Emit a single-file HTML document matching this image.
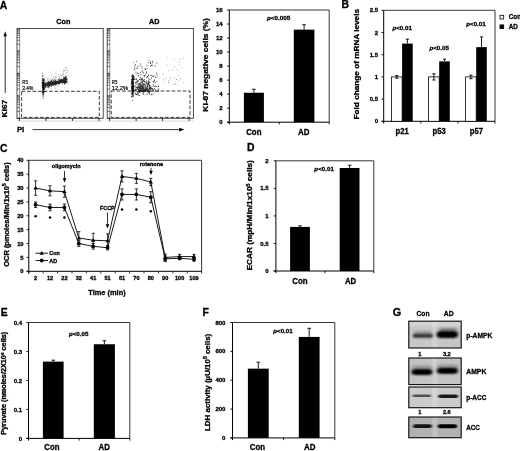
<!DOCTYPE html><html><head><meta charset="utf-8"><style>html,body{margin:0;padding:0;background:#fff;overflow:hidden;}svg{display:block;}text{font-family:"Liberation Sans",sans-serif;}</style></head><body>
<svg width="520" height="451" viewBox="0 0 520 451">
<defs><filter id="b1" x="-30%" y="-80%" width="160%" height="260%"><feGaussianBlur stdDeviation="1.6 1.1"/></filter><filter id="b2" x="-30%" y="-80%" width="160%" height="260%"><feGaussianBlur stdDeviation="1.3 0.8"/></filter><filter id="b3" x="-30%" y="-80%" width="160%" height="260%"><feGaussianBlur stdDeviation="1.0 0.55"/></filter><filter id="soft"><feGaussianBlur stdDeviation="0.4"/></filter><filter id="dsoft"><feGaussianBlur stdDeviation="0.3"/></filter></defs>
<rect width="520" height="451" fill="#fff"/>
<g filter="url(#soft)">
<text x="-0.2" y="8.6" font-size="10.4" font-weight="bold" text-anchor="start" fill="#000" stroke="#000" stroke-width="0.3">A</text>
<text x="341.5" y="8.3" font-size="10.4" font-weight="bold" text-anchor="start" fill="#000" stroke="#000" stroke-width="0.3">B</text>
<text x="0.0" y="151.8" font-size="10.4" font-weight="bold" text-anchor="start" fill="#000" stroke="#000" stroke-width="0.3">C</text>
<text x="247.0" y="150.8" font-size="10.4" font-weight="bold" text-anchor="start" fill="#000" stroke="#000" stroke-width="0.3">D</text>
<text x="0.8" y="316.1" font-size="10.4" font-weight="bold" text-anchor="start" fill="#000" stroke="#000" stroke-width="0.3">E</text>
<text x="202.4" y="316.1" font-size="10.4" font-weight="bold" text-anchor="start" fill="#000" stroke="#000" stroke-width="0.3">F</text>
<text x="392.8" y="316.3" font-size="10.9" font-weight="bold" text-anchor="start" fill="#000" stroke="#000" stroke-width="0.3">G</text>
<line x1="17.00" y1="121.10" x2="103.20" y2="121.10" stroke="#aaa" stroke-width="0.5" />
<rect x="17.00" y="28.50" width="86.20" height="89.80" fill="none" stroke="#3a3a3a" stroke-width="0.9" />
<line x1="19.60" y1="28.50" x2="19.60" y2="118.30" stroke="#444" stroke-width="0.6" />
<line x1="17.00" y1="118.30" x2="19.60" y2="118.30" stroke="#222" stroke-width="0.9" />
<line x1="17.00" y1="111.54" x2="19.60" y2="111.54" stroke="#222" stroke-width="0.6" />
<line x1="17.00" y1="107.59" x2="19.60" y2="107.59" stroke="#222" stroke-width="0.6" />
<line x1="17.00" y1="104.78" x2="19.60" y2="104.78" stroke="#222" stroke-width="0.6" />
<line x1="17.00" y1="102.61" x2="19.60" y2="102.61" stroke="#222" stroke-width="0.6" />
<line x1="17.00" y1="100.83" x2="19.60" y2="100.83" stroke="#222" stroke-width="0.6" />
<line x1="17.00" y1="99.33" x2="19.60" y2="99.33" stroke="#222" stroke-width="0.6" />
<line x1="17.00" y1="98.03" x2="19.60" y2="98.03" stroke="#222" stroke-width="0.6" />
<line x1="17.00" y1="96.88" x2="19.60" y2="96.88" stroke="#222" stroke-width="0.6" />
<line x1="17.00" y1="95.85" x2="19.60" y2="95.85" stroke="#222" stroke-width="0.9" />
<line x1="17.00" y1="89.09" x2="19.60" y2="89.09" stroke="#222" stroke-width="0.6" />
<line x1="17.00" y1="85.14" x2="19.60" y2="85.14" stroke="#222" stroke-width="0.6" />
<line x1="17.00" y1="82.33" x2="19.60" y2="82.33" stroke="#222" stroke-width="0.6" />
<line x1="17.00" y1="80.16" x2="19.60" y2="80.16" stroke="#222" stroke-width="0.6" />
<line x1="17.00" y1="78.38" x2="19.60" y2="78.38" stroke="#222" stroke-width="0.6" />
<line x1="17.00" y1="76.88" x2="19.60" y2="76.88" stroke="#222" stroke-width="0.6" />
<line x1="17.00" y1="75.58" x2="19.60" y2="75.58" stroke="#222" stroke-width="0.6" />
<line x1="17.00" y1="74.43" x2="19.60" y2="74.43" stroke="#222" stroke-width="0.6" />
<line x1="17.00" y1="73.40" x2="19.60" y2="73.40" stroke="#222" stroke-width="0.9" />
<line x1="17.00" y1="66.64" x2="19.60" y2="66.64" stroke="#222" stroke-width="0.6" />
<line x1="17.00" y1="62.69" x2="19.60" y2="62.69" stroke="#222" stroke-width="0.6" />
<line x1="17.00" y1="59.88" x2="19.60" y2="59.88" stroke="#222" stroke-width="0.6" />
<line x1="17.00" y1="57.71" x2="19.60" y2="57.71" stroke="#222" stroke-width="0.6" />
<line x1="17.00" y1="55.93" x2="19.60" y2="55.93" stroke="#222" stroke-width="0.6" />
<line x1="17.00" y1="54.43" x2="19.60" y2="54.43" stroke="#222" stroke-width="0.6" />
<line x1="17.00" y1="53.13" x2="19.60" y2="53.13" stroke="#222" stroke-width="0.6" />
<line x1="17.00" y1="51.98" x2="19.60" y2="51.98" stroke="#222" stroke-width="0.6" />
<line x1="17.00" y1="50.95" x2="19.60" y2="50.95" stroke="#222" stroke-width="0.9" />
<line x1="17.00" y1="44.19" x2="19.60" y2="44.19" stroke="#222" stroke-width="0.6" />
<line x1="17.00" y1="40.24" x2="19.60" y2="40.24" stroke="#222" stroke-width="0.6" />
<line x1="17.00" y1="37.43" x2="19.60" y2="37.43" stroke="#222" stroke-width="0.6" />
<line x1="17.00" y1="35.26" x2="19.60" y2="35.26" stroke="#222" stroke-width="0.6" />
<line x1="17.00" y1="33.48" x2="19.60" y2="33.48" stroke="#222" stroke-width="0.6" />
<line x1="17.00" y1="31.98" x2="19.60" y2="31.98" stroke="#222" stroke-width="0.6" />
<line x1="17.00" y1="30.68" x2="19.60" y2="30.68" stroke="#222" stroke-width="0.6" />
<line x1="17.00" y1="29.53" x2="19.60" y2="29.53" stroke="#222" stroke-width="0.6" />
<line x1="19.40" y1="118.30" x2="19.40" y2="120.90" stroke="#111" stroke-width="0.9" />
<line x1="45.90" y1="118.30" x2="45.90" y2="120.90" stroke="#111" stroke-width="0.9" />
<line x1="72.40" y1="118.30" x2="72.40" y2="120.90" stroke="#111" stroke-width="0.9" />
<line x1="98.90" y1="118.30" x2="98.90" y2="120.90" stroke="#111" stroke-width="0.9" />
<rect x="21.6" y="91.3" width="77.69999999999999" height="26.10000000000001" fill="none" stroke="#0a0a0a" stroke-width="0.8" stroke-dasharray="3.6 1.9"/>
<text x="63.3" y="24.0" font-size="7.6" font-weight="bold" text-anchor="middle" fill="#000" stroke="#000" stroke-width="0.3" textLength="14.2" lengthAdjust="spacingAndGlyphs">Con</text>
<text x="22.3" y="84.2" font-size="5.4" font-weight="normal" text-anchor="start" fill="#000" stroke="#000" stroke-width="0.18" textLength="5.6" lengthAdjust="spacingAndGlyphs">R5</text>
<text x="22.3" y="89.5" font-size="5.6" font-weight="normal" text-anchor="start" fill="#000" stroke="#000" stroke-width="0.18" textLength="11.0" lengthAdjust="spacingAndGlyphs">3.4%</text>
<g filter="url(#dsoft)">
<path d="M52.3 82.9h0.8v0.8h-0.8zM66.5 79.6h0.8v0.8h-0.8zM44.8 83.7h0.8v0.8h-0.8zM44.2 85.8h0.8v0.8h-0.8zM50.7 81.7h0.8v0.8h-0.8zM56.2 81.6h0.8v0.8h-0.8zM56.5 73.0h0.8v0.8h-0.8zM56.2 76.7h0.8v0.8h-0.8zM66.7 79.9h0.8v0.8h-0.8zM44.9 83.5h0.8v0.8h-0.8zM50.7 81.4h0.8v0.8h-0.8zM55.6 70.2h0.8v0.8h-0.8zM47.0 79.0h0.8v0.8h-0.8zM50.4 85.6h0.8v0.8h-0.8zM62.8 82.7h0.8v0.8h-0.8zM58.1 78.4h0.8v0.8h-0.8zM64.2 75.2h0.8v0.8h-0.8zM66.6 77.9h0.8v0.8h-0.8zM67.4 84.2h0.8v0.8h-0.8zM53.0 81.4h0.8v0.8h-0.8zM44.3 83.6h0.8v0.8h-0.8zM61.4 80.7h0.8v0.8h-0.8zM48.3 84.3h0.8v0.8h-0.8zM63.0 78.5h0.8v0.8h-0.8zM55.5 77.1h0.8v0.8h-0.8zM47.6 77.6h0.8v0.8h-0.8zM43.4 82.0h0.8v0.8h-0.8zM49.5 82.2h0.8v0.8h-0.8zM58.5 75.9h0.8v0.8h-0.8zM58.6 82.5h0.8v0.8h-0.8zM50.9 75.3h0.8v0.8h-0.8zM57.5 86.1h0.8v0.8h-0.8zM53.4 75.7h0.8v0.8h-0.8zM51.3 79.5h0.8v0.8h-0.8zM65.8 78.5h0.8v0.8h-0.8zM64.3 87.6h0.8v0.8h-0.8zM65.0 80.3h0.8v0.8h-0.8zM67.6 81.4h0.8v0.8h-0.8zM50.2 84.1h0.8v0.8h-0.8zM48.9 87.1h0.8v0.8h-0.8zM57.6 84.9h0.8v0.8h-0.8zM50.1 89.5h0.8v0.8h-0.8zM45.4 80.5h0.8v0.8h-0.8zM57.0 75.8h0.8v0.8h-0.8zM55.4 84.2h0.8v0.8h-0.8zM52.5 78.1h0.8v0.8h-0.8zM43.0 79.2h0.8v0.8h-0.8zM57.4 79.4h0.8v0.8h-0.8zM58.8 77.3h0.8v0.8h-0.8zM55.4 80.2h0.8v0.8h-0.8zM55.0 72.8h0.8v0.8h-0.8zM50.0 72.3h0.8v0.8h-0.8zM54.1 86.6h0.8v0.8h-0.8zM48.9 85.0h0.8v0.8h-0.8zM63.7 78.9h0.8v0.8h-0.8zM65.6 74.5h0.8v0.8h-0.8zM55.6 74.9h0.8v0.8h-0.8zM66.6 79.7h0.8v0.8h-0.8zM55.2 76.3h0.8v0.8h-0.8zM64.0 78.3h0.8v0.8h-0.8zM55.6 78.2h0.8v0.8h-0.8zM48.4 83.6h0.8v0.8h-0.8zM63.9 81.8h0.8v0.8h-0.8zM65.9 66.5h0.8v0.8h-0.8zM60.1 80.7h0.8v0.8h-0.8zM63.2 71.7h0.8v0.8h-0.8zM63.0 81.5h0.8v0.8h-0.8zM50.6 87.7h0.8v0.8h-0.8zM49.1 81.9h0.8v0.8h-0.8zM55.8 79.2h0.8v0.8h-0.8zM51.6 82.1h0.8v0.8h-0.8zM65.8 71.9h0.8v0.8h-0.8zM66.3 76.4h0.8v0.8h-0.8zM59.7 77.6h0.8v0.8h-0.8zM45.7 90.4h0.8v0.8h-0.8zM50.8 79.8h0.8v0.8h-0.8zM47.6 79.0h0.8v0.8h-0.8zM67.6 70.4h0.8v0.8h-0.8zM58.6 83.8h0.8v0.8h-0.8zM44.5 87.0h0.8v0.8h-0.8zM64.7 78.6h0.8v0.8h-0.8zM64.8 70.4h0.8v0.8h-0.8zM57.2 85.0h0.8v0.8h-0.8zM55.3 77.7h0.8v0.8h-0.8zM52.6 79.8h0.8v0.8h-0.8zM47.0 82.3h0.8v0.8h-0.8zM62.9 78.9h0.8v0.8h-0.8zM62.4 84.3h0.8v0.8h-0.8zM60.4 75.0h0.8v0.8h-0.8zM49.8 80.6h0.8v0.8h-0.8zM47.7 77.6h0.8v0.8h-0.8zM66.6 72.2h0.8v0.8h-0.8zM51.3 89.0h0.8v0.8h-0.8zM50.3 76.8h0.8v0.8h-0.8zM66.8 69.4h0.8v0.8h-0.8zM62.4 70.9h0.8v0.8h-0.8zM51.3 79.7h0.8v0.8h-0.8zM55.2 84.8h0.8v0.8h-0.8zM43.9 85.7h0.8v0.8h-0.8zM54.8 75.9h0.8v0.8h-0.8zM61.6 78.4h0.8v0.8h-0.8zM57.5 82.1h0.8v0.8h-0.8zM49.0 80.4h0.8v0.8h-0.8zM44.3 83.6h0.8v0.8h-0.8zM51.9 70.4h0.8v0.8h-0.8zM59.0 77.3h0.8v0.8h-0.8zM53.4 77.7h0.8v0.8h-0.8zM54.8 81.6h0.8v0.8h-0.8zM67.0 80.4h0.8v0.8h-0.8zM60.1 81.8h0.8v0.8h-0.8zM62.1 72.7h0.8v0.8h-0.8zM66.5 75.3h0.8v0.8h-0.8zM65.6 77.5h0.8v0.8h-0.8zM67.9 82.3h0.8v0.8h-0.8zM56.2 82.3h0.8v0.8h-0.8zM44.4 88.8h0.8v0.8h-0.8zM46.8 78.5h0.8v0.8h-0.8zM61.0 77.5h0.8v0.8h-0.8zM61.2 75.5h0.8v0.8h-0.8zM59.2 85.4h0.8v0.8h-0.8zM60.6 74.3h0.8v0.8h-0.8zM45.7 83.1h0.8v0.8h-0.8zM54.9 88.3h0.8v0.8h-0.8zM44.4 79.7h0.8v0.8h-0.8zM44.8 81.3h0.8v0.8h-0.8zM53.9 86.5h0.8v0.8h-0.8zM46.2 76.9h0.8v0.8h-0.8zM61.6 80.9h0.8v0.8h-0.8zM53.1 76.5h0.8v0.8h-0.8zM58.4 74.0h0.8v0.8h-0.8zM44.2 81.7h0.8v0.8h-0.8zM44.4 80.1h0.8v0.8h-0.8zM54.8 81.5h0.8v0.8h-0.8zM52.8 80.5h0.8v0.8h-0.8zM54.7 88.1h0.8v0.8h-0.8zM64.3 84.2h0.8v0.8h-0.8zM55.2 76.7h0.8v0.8h-0.8zM67.6 75.2h0.8v0.8h-0.8zM46.0 80.8h0.8v0.8h-0.8zM64.6 80.5h0.8v0.8h-0.8zM64.1 69.7h0.8v0.8h-0.8zM63.2 76.4h0.8v0.8h-0.8zM62.1 75.1h0.8v0.8h-0.8zM65.7 70.3h0.8v0.8h-0.8zM62.9 70.1h0.8v0.8h-0.8zM63.6 68.4h0.8v0.8h-0.8zM65.0 69.8h0.8v0.8h-0.8zM62.4 74.8h0.8v0.8h-0.8zM63.6 70.6h0.8v0.8h-0.8zM67.0 70.4h0.8v0.8h-0.8zM63.0 76.6h0.8v0.8h-0.8zM67.8 75.0h0.8v0.8h-0.8zM63.2 73.4h0.8v0.8h-0.8zM65.9 68.1h0.8v0.8h-0.8zM65.8 77.3h0.8v0.8h-0.8zM65.2 73.4h0.8v0.8h-0.8zM63.5 73.1h0.8v0.8h-0.8zM61.8 74.8h0.8v0.8h-0.8zM64.3 77.7h0.8v0.8h-0.8zM62.7 74.0h0.8v0.8h-0.8zM60.1 69.8h0.8v0.8h-0.8zM66.1 67.6h0.8v0.8h-0.8zM64.9 67.1h0.8v0.8h-0.8zM63.2 77.9h0.8v0.8h-0.8zM61.6 76.8h0.8v0.8h-0.8z" fill="#000" opacity="0.3"/>
<path d="M52.6 81.7h0.8v0.8h-0.8zM53.2 82.5h0.8v0.8h-0.8zM46.9 83.9h0.8v0.8h-0.8zM61.4 81.3h0.8v0.8h-0.8zM45.6 82.5h0.8v0.8h-0.8zM45.3 84.4h0.8v0.8h-0.8zM57.8 81.2h0.8v0.8h-0.8zM43.5 84.8h0.8v0.8h-0.8zM47.6 84.3h0.8v0.8h-0.8zM53.0 83.4h0.8v0.8h-0.8zM54.7 81.3h0.8v0.8h-0.8zM57.9 81.8h0.8v0.8h-0.8zM66.5 79.8h0.8v0.8h-0.8zM59.1 82.0h0.8v0.8h-0.8zM50.4 84.4h0.8v0.8h-0.8zM52.5 81.9h0.8v0.8h-0.8zM64.9 80.0h0.8v0.8h-0.8zM48.4 83.1h0.8v0.8h-0.8zM65.2 80.1h0.8v0.8h-0.8zM57.5 80.9h0.8v0.8h-0.8zM44.7 87.8h0.8v0.8h-0.8zM60.6 81.6h0.8v0.8h-0.8zM46.2 85.4h0.8v0.8h-0.8zM46.9 83.5h0.8v0.8h-0.8zM47.6 83.3h0.8v0.8h-0.8zM58.1 82.4h0.8v0.8h-0.8zM48.0 87.5h0.8v0.8h-0.8zM61.1 82.7h0.8v0.8h-0.8zM47.4 85.5h0.8v0.8h-0.8zM58.7 83.6h0.8v0.8h-0.8zM48.1 86.2h0.8v0.8h-0.8zM50.7 83.8h0.8v0.8h-0.8zM45.1 84.0h0.8v0.8h-0.8zM56.5 82.7h0.8v0.8h-0.8zM64.4 80.1h0.8v0.8h-0.8zM62.9 81.0h0.8v0.8h-0.8zM63.9 79.7h0.8v0.8h-0.8zM47.5 80.8h0.8v0.8h-0.8zM48.5 83.1h0.8v0.8h-0.8zM56.7 82.1h0.8v0.8h-0.8zM44.5 84.5h0.8v0.8h-0.8zM59.1 83.2h0.8v0.8h-0.8zM56.7 82.6h0.8v0.8h-0.8zM59.8 81.6h0.8v0.8h-0.8zM56.2 80.9h0.8v0.8h-0.8zM49.8 83.1h0.8v0.8h-0.8zM43.6 86.5h0.8v0.8h-0.8zM44.8 85.9h0.8v0.8h-0.8zM56.4 82.8h0.8v0.8h-0.8zM63.9 80.2h0.8v0.8h-0.8zM58.7 81.1h0.8v0.8h-0.8zM45.0 85.2h0.8v0.8h-0.8zM59.2 81.3h0.8v0.8h-0.8zM57.0 81.9h0.8v0.8h-0.8zM50.6 83.3h0.8v0.8h-0.8zM55.5 79.7h0.8v0.8h-0.8zM59.7 79.5h0.8v0.8h-0.8zM63.5 81.3h0.8v0.8h-0.8zM63.9 79.6h0.8v0.8h-0.8zM61.4 79.9h0.8v0.8h-0.8zM57.0 82.7h0.8v0.8h-0.8zM57.5 82.6h0.8v0.8h-0.8zM66.1 78.9h0.8v0.8h-0.8zM52.0 81.4h0.8v0.8h-0.8zM53.3 82.3h0.8v0.8h-0.8zM60.7 81.3h0.8v0.8h-0.8zM54.2 84.3h0.8v0.8h-0.8zM53.8 80.7h0.8v0.8h-0.8zM49.4 83.7h0.8v0.8h-0.8zM58.6 82.1h0.8v0.8h-0.8zM63.4 79.5h0.8v0.8h-0.8zM63.1 81.5h0.8v0.8h-0.8zM47.1 85.0h0.8v0.8h-0.8zM64.2 79.7h0.8v0.8h-0.8zM56.3 82.5h0.8v0.8h-0.8zM54.9 80.5h0.8v0.8h-0.8zM59.6 81.0h0.8v0.8h-0.8zM46.8 84.5h0.8v0.8h-0.8zM47.6 84.9h0.8v0.8h-0.8zM54.1 84.5h0.8v0.8h-0.8zM65.2 80.0h0.8v0.8h-0.8zM44.1 84.5h0.8v0.8h-0.8zM58.9 80.9h0.8v0.8h-0.8zM61.3 80.9h0.8v0.8h-0.8zM54.3 83.0h0.8v0.8h-0.8zM48.7 84.1h0.8v0.8h-0.8zM56.9 82.2h0.8v0.8h-0.8zM58.4 79.1h0.8v0.8h-0.8zM58.8 82.6h0.8v0.8h-0.8zM47.8 84.2h0.8v0.8h-0.8zM59.5 82.0h0.8v0.8h-0.8zM50.9 81.7h0.8v0.8h-0.8zM57.1 80.7h0.8v0.8h-0.8zM61.3 80.7h0.8v0.8h-0.8zM64.2 79.7h0.8v0.8h-0.8zM52.9 80.8h0.8v0.8h-0.8zM51.0 82.0h0.8v0.8h-0.8zM61.6 80.5h0.8v0.8h-0.8zM58.1 83.2h0.8v0.8h-0.8zM61.3 79.6h0.8v0.8h-0.8zM49.0 81.7h0.8v0.8h-0.8zM64.6 79.6h0.8v0.8h-0.8zM51.2 82.0h0.8v0.8h-0.8zM51.5 83.9h0.8v0.8h-0.8zM55.7 80.8h0.8v0.8h-0.8zM44.0 84.4h0.8v0.8h-0.8zM61.5 81.6h0.8v0.8h-0.8zM61.2 81.3h0.8v0.8h-0.8zM54.8 80.1h0.8v0.8h-0.8zM59.2 81.0h0.8v0.8h-0.8zM64.9 80.4h0.8v0.8h-0.8zM55.0 84.1h0.8v0.8h-0.8zM56.9 81.4h0.8v0.8h-0.8zM55.8 83.1h0.8v0.8h-0.8zM62.5 80.2h0.8v0.8h-0.8zM62.9 80.4h0.8v0.8h-0.8zM56.3 83.3h0.8v0.8h-0.8zM54.5 82.2h0.8v0.8h-0.8zM64.7 79.9h0.8v0.8h-0.8zM60.9 80.4h0.8v0.8h-0.8zM59.3 81.9h0.8v0.8h-0.8zM53.5 82.1h0.8v0.8h-0.8zM49.2 83.7h0.8v0.8h-0.8zM53.4 80.4h0.8v0.8h-0.8zM53.9 83.2h0.8v0.8h-0.8zM57.4 81.5h0.8v0.8h-0.8zM61.1 81.0h0.8v0.8h-0.8zM48.3 82.7h0.8v0.8h-0.8zM51.2 82.7h0.8v0.8h-0.8zM60.1 82.0h0.8v0.8h-0.8zM49.1 85.2h0.8v0.8h-0.8zM52.8 83.6h0.8v0.8h-0.8zM55.4 82.9h0.8v0.8h-0.8zM57.2 80.7h0.8v0.8h-0.8zM61.9 79.4h0.8v0.8h-0.8zM48.5 81.3h0.8v0.8h-0.8zM63.5 81.0h0.8v0.8h-0.8zM64.3 83.3h0.8v0.8h-0.8zM63.5 80.9h0.8v0.8h-0.8zM59.6 81.7h0.8v0.8h-0.8zM61.4 81.5h0.8v0.8h-0.8zM45.6 85.6h0.8v0.8h-0.8zM43.9 87.1h0.8v0.8h-0.8zM64.0 80.2h0.8v0.8h-0.8zM54.7 81.0h0.8v0.8h-0.8zM58.8 81.8h0.8v0.8h-0.8zM46.2 84.9h0.8v0.8h-0.8zM54.7 82.1h0.8v0.8h-0.8zM47.7 86.6h0.8v0.8h-0.8zM65.7 79.7h0.8v0.8h-0.8zM45.1 84.2h0.8v0.8h-0.8zM60.3 82.0h0.8v0.8h-0.8zM54.4 83.0h0.8v0.8h-0.8zM43.4 82.2h0.8v0.8h-0.8zM46.7 84.7h0.8v0.8h-0.8zM52.5 83.6h0.8v0.8h-0.8zM55.7 82.6h0.8v0.8h-0.8zM61.1 79.0h0.8v0.8h-0.8zM57.0 82.5h0.8v0.8h-0.8zM55.4 82.2h0.8v0.8h-0.8zM49.7 82.5h0.8v0.8h-0.8zM61.0 80.0h0.8v0.8h-0.8zM63.9 79.4h0.8v0.8h-0.8zM60.6 80.0h0.8v0.8h-0.8zM59.9 81.6h0.8v0.8h-0.8zM54.2 82.6h0.8v0.8h-0.8zM57.5 81.1h0.8v0.8h-0.8zM64.4 79.4h0.8v0.8h-0.8zM57.7 81.0h0.8v0.8h-0.8zM52.6 83.0h0.8v0.8h-0.8zM59.2 78.5h0.8v0.8h-0.8zM43.3 83.3h0.8v0.8h-0.8zM49.0 83.9h0.8v0.8h-0.8zM47.6 84.4h0.8v0.8h-0.8zM49.4 82.8h0.8v0.8h-0.8zM55.2 82.1h0.8v0.8h-0.8zM65.2 78.7h0.8v0.8h-0.8zM44.5 83.2h0.8v0.8h-0.8zM44.5 84.4h0.8v0.8h-0.8zM54.1 83.8h0.8v0.8h-0.8zM58.0 82.8h0.8v0.8h-0.8zM52.2 82.5h0.8v0.8h-0.8zM51.4 84.9h0.8v0.8h-0.8zM55.8 83.8h0.8v0.8h-0.8zM50.3 83.5h0.8v0.8h-0.8zM44.6 86.8h0.8v0.8h-0.8zM52.6 81.7h0.8v0.8h-0.8zM45.4 84.5h0.8v0.8h-0.8zM45.3 83.8h0.8v0.8h-0.8zM54.3 82.4h0.8v0.8h-0.8zM55.7 81.6h0.8v0.8h-0.8zM54.6 82.3h0.8v0.8h-0.8zM57.3 82.9h0.8v0.8h-0.8zM53.6 83.0h0.8v0.8h-0.8zM55.5 83.1h0.8v0.8h-0.8zM58.0 81.8h0.8v0.8h-0.8zM55.8 82.9h0.8v0.8h-0.8zM56.2 82.2h0.8v0.8h-0.8zM59.8 81.7h0.8v0.8h-0.8zM63.5 79.1h0.8v0.8h-0.8zM51.3 85.0h0.8v0.8h-0.8zM55.5 81.2h0.8v0.8h-0.8zM60.4 81.8h0.8v0.8h-0.8zM66.1 79.0h0.8v0.8h-0.8zM44.5 85.2h0.8v0.8h-0.8zM52.7 82.4h0.8v0.8h-0.8zM55.6 82.4h0.8v0.8h-0.8zM58.0 81.0h0.8v0.8h-0.8zM51.4 83.2h0.8v0.8h-0.8zM51.0 80.8h0.8v0.8h-0.8zM45.5 86.4h0.8v0.8h-0.8zM57.4 81.0h0.8v0.8h-0.8zM52.8 85.0h0.8v0.8h-0.8zM50.9 80.0h0.8v0.8h-0.8zM50.0 82.7h0.8v0.8h-0.8zM63.7 80.6h0.8v0.8h-0.8zM45.6 84.1h0.8v0.8h-0.8zM44.7 83.9h0.8v0.8h-0.8zM58.5 83.1h0.8v0.8h-0.8zM45.1 86.7h0.8v0.8h-0.8zM44.9 86.8h0.8v0.8h-0.8zM58.9 82.0h0.8v0.8h-0.8zM51.3 82.0h0.8v0.8h-0.8zM45.8 82.6h0.8v0.8h-0.8zM64.8 79.5h0.8v0.8h-0.8zM53.3 81.8h0.8v0.8h-0.8zM49.7 85.1h0.8v0.8h-0.8zM63.4 81.2h0.8v0.8h-0.8zM51.3 84.1h0.8v0.8h-0.8zM52.2 84.5h0.8v0.8h-0.8zM60.5 80.4h0.8v0.8h-0.8zM56.3 83.8h0.8v0.8h-0.8zM63.1 80.6h0.8v0.8h-0.8zM54.4 81.9h0.8v0.8h-0.8zM64.6 78.7h0.8v0.8h-0.8zM44.1 83.9h0.8v0.8h-0.8zM45.8 85.7h0.8v0.8h-0.8zM64.0 81.0h0.8v0.8h-0.8zM46.5 82.2h0.8v0.8h-0.8zM48.9 86.0h0.8v0.8h-0.8zM55.1 81.1h0.8v0.8h-0.8zM51.5 82.9h0.8v0.8h-0.8zM53.8 82.0h0.8v0.8h-0.8zM59.6 80.8h0.8v0.8h-0.8zM61.5 79.1h0.8v0.8h-0.8zM61.9 79.1h0.8v0.8h-0.8zM64.5 79.2h0.8v0.8h-0.8zM59.4 80.3h0.8v0.8h-0.8zM53.2 84.4h0.8v0.8h-0.8zM65.4 80.2h0.8v0.8h-0.8zM47.6 84.5h0.8v0.8h-0.8zM65.4 80.2h0.8v0.8h-0.8zM45.5 82.4h0.8v0.8h-0.8zM47.7 84.7h0.8v0.8h-0.8zM56.5 81.8h0.8v0.8h-0.8zM45.9 85.4h0.8v0.8h-0.8zM48.5 82.0h0.8v0.8h-0.8zM48.5 84.8h0.8v0.8h-0.8zM47.2 82.9h0.8v0.8h-0.8zM55.8 81.0h0.8v0.8h-0.8zM49.8 81.7h0.8v0.8h-0.8zM50.0 82.3h0.8v0.8h-0.8zM54.2 82.9h0.8v0.8h-0.8zM64.7 79.3h0.8v0.8h-0.8zM54.9 82.2h0.8v0.8h-0.8zM65.4 79.3h0.8v0.8h-0.8zM43.2 85.2h0.8v0.8h-0.8zM61.1 79.6h0.8v0.8h-0.8zM47.0 85.2h0.8v0.8h-0.8zM49.5 82.5h0.8v0.8h-0.8zM57.9 81.7h0.8v0.8h-0.8zM55.7 83.8h0.8v0.8h-0.8zM43.7 82.4h0.8v0.8h-0.8zM62.1 81.1h0.8v0.8h-0.8zM59.8 81.9h0.8v0.8h-0.8zM54.4 82.1h0.8v0.8h-0.8zM62.4 82.1h0.8v0.8h-0.8zM52.8 82.6h0.8v0.8h-0.8zM62.0 81.8h0.8v0.8h-0.8zM55.5 84.1h0.8v0.8h-0.8zM50.2 83.9h0.8v0.8h-0.8zM49.6 83.8h0.8v0.8h-0.8zM51.3 82.6h0.8v0.8h-0.8zM51.2 83.7h0.8v0.8h-0.8zM61.9 80.6h0.8v0.8h-0.8zM51.7 82.2h0.8v0.8h-0.8zM55.9 82.1h0.8v0.8h-0.8zM65.7 79.3h0.8v0.8h-0.8zM57.1 82.8h0.8v0.8h-0.8zM55.3 83.2h0.8v0.8h-0.8zM52.0 82.1h0.8v0.8h-0.8zM47.8 82.7h0.8v0.8h-0.8zM64.0 79.6h0.8v0.8h-0.8zM50.8 82.8h0.8v0.8h-0.8zM47.0 85.4h0.8v0.8h-0.8zM59.4 82.3h0.8v0.8h-0.8zM62.0 80.4h0.8v0.8h-0.8zM48.5 84.4h0.8v0.8h-0.8zM53.3 84.1h0.8v0.8h-0.8zM52.3 82.7h0.8v0.8h-0.8zM60.7 80.1h0.8v0.8h-0.8zM50.7 83.4h0.8v0.8h-0.8zM52.0 79.6h0.8v0.8h-0.8zM60.8 79.8h0.8v0.8h-0.8zM43.5 86.1h0.8v0.8h-0.8zM58.2 82.3h0.8v0.8h-0.8zM54.9 80.3h0.8v0.8h-0.8zM57.4 83.4h0.8v0.8h-0.8zM63.3 80.1h0.8v0.8h-0.8zM55.0 83.8h0.8v0.8h-0.8zM64.9 79.7h0.8v0.8h-0.8zM62.4 82.8h0.8v0.8h-0.8zM57.5 82.2h0.8v0.8h-0.8zM48.3 82.8h0.8v0.8h-0.8zM51.0 82.8h0.8v0.8h-0.8zM54.5 84.8h0.8v0.8h-0.8zM46.8 83.3h0.8v0.8h-0.8zM55.6 81.8h0.8v0.8h-0.8zM64.5 80.2h0.8v0.8h-0.8zM57.4 83.3h0.8v0.8h-0.8zM50.0 82.9h0.8v0.8h-0.8zM56.3 81.4h0.8v0.8h-0.8zM55.7 82.3h0.8v0.8h-0.8zM48.3 83.8h0.8v0.8h-0.8zM57.9 83.0h0.8v0.8h-0.8zM59.5 82.1h0.8v0.8h-0.8zM61.7 80.9h0.8v0.8h-0.8zM54.1 83.5h0.8v0.8h-0.8zM56.3 83.2h0.8v0.8h-0.8zM48.9 83.1h0.8v0.8h-0.8zM58.3 82.0h0.8v0.8h-0.8zM47.1 83.8h0.8v0.8h-0.8zM53.4 83.4h0.8v0.8h-0.8zM58.8 79.7h0.8v0.8h-0.8zM55.0 82.4h0.8v0.8h-0.8zM62.2 81.1h0.8v0.8h-0.8zM56.4 81.3h0.8v0.8h-0.8zM54.3 83.3h0.8v0.8h-0.8zM51.1 84.0h0.8v0.8h-0.8zM63.5 79.1h0.8v0.8h-0.8zM60.0 82.3h0.8v0.8h-0.8zM45.2 85.8h0.8v0.8h-0.8zM54.5 82.6h0.8v0.8h-0.8zM58.6 81.3h0.8v0.8h-0.8zM50.0 84.0h0.8v0.8h-0.8zM45.7 82.6h0.8v0.8h-0.8zM58.6 80.7h0.8v0.8h-0.8zM61.5 82.4h0.8v0.8h-0.8zM56.2 81.8h0.8v0.8h-0.8zM61.5 81.7h0.8v0.8h-0.8zM65.0 80.1h0.8v0.8h-0.8zM50.0 83.9h0.8v0.8h-0.8zM63.6 79.5h0.8v0.8h-0.8zM51.2 82.9h0.8v0.8h-0.8zM44.3 84.1h0.8v0.8h-0.8zM55.5 81.1h0.8v0.8h-0.8zM54.0 83.5h0.8v0.8h-0.8zM64.3 79.9h0.8v0.8h-0.8zM61.9 81.5h0.8v0.8h-0.8zM48.1 81.0h0.8v0.8h-0.8zM47.7 83.3h0.8v0.8h-0.8zM63.3 80.6h0.8v0.8h-0.8zM59.3 83.2h0.8v0.8h-0.8zM62.8 80.0h0.8v0.8h-0.8zM59.4 81.0h0.8v0.8h-0.8zM45.1 85.8h0.8v0.8h-0.8zM59.4 81.9h0.8v0.8h-0.8zM48.2 81.7h0.8v0.8h-0.8zM51.2 80.9h0.8v0.8h-0.8zM56.6 82.9h0.8v0.8h-0.8zM64.0 79.6h0.8v0.8h-0.8zM58.7 83.3h0.8v0.8h-0.8zM52.7 82.4h0.8v0.8h-0.8zM44.1 84.1h0.8v0.8h-0.8zM49.0 83.2h0.8v0.8h-0.8zM49.7 82.5h0.8v0.8h-0.8zM49.3 83.3h0.8v0.8h-0.8zM63.6 80.3h0.8v0.8h-0.8zM53.7 81.4h0.8v0.8h-0.8zM64.0 80.2h0.8v0.8h-0.8zM55.6 81.3h0.8v0.8h-0.8zM58.2 80.3h0.8v0.8h-0.8zM55.0 80.9h0.8v0.8h-0.8zM55.2 82.1h0.8v0.8h-0.8zM61.1 82.1h0.8v0.8h-0.8zM48.0 84.6h0.8v0.8h-0.8zM61.1 80.2h0.8v0.8h-0.8zM54.4 84.0h0.8v0.8h-0.8zM55.1 82.8h0.8v0.8h-0.8zM58.7 80.4h0.8v0.8h-0.8zM47.4 84.3h0.8v0.8h-0.8zM54.1 82.9h0.8v0.8h-0.8zM49.3 83.1h0.8v0.8h-0.8zM63.3 79.8h0.8v0.8h-0.8zM61.1 81.4h0.8v0.8h-0.8zM50.6 83.7h0.8v0.8h-0.8zM57.0 81.6h0.8v0.8h-0.8zM57.2 83.0h0.8v0.8h-0.8zM47.2 84.9h0.8v0.8h-0.8zM59.2 79.8h0.8v0.8h-0.8zM44.4 85.4h0.8v0.8h-0.8zM48.3 83.8h0.8v0.8h-0.8zM54.4 79.0h0.8v0.8h-0.8zM45.9 84.9h0.8v0.8h-0.8zM44.2 87.9h0.8v0.8h-0.8zM46.2 85.0h0.8v0.8h-0.8zM52.9 82.9h0.8v0.8h-0.8zM65.8 78.5h0.8v0.8h-0.8zM48.5 85.5h0.8v0.8h-0.8zM47.8 84.5h0.8v0.8h-0.8zM50.9 86.1h0.8v0.8h-0.8zM57.4 82.1h0.8v0.8h-0.8zM58.3 82.0h0.8v0.8h-0.8zM59.3 80.4h0.8v0.8h-0.8zM62.9 80.6h0.8v0.8h-0.8zM61.8 81.7h0.8v0.8h-0.8zM48.0 84.6h0.8v0.8h-0.8zM55.8 82.8h0.8v0.8h-0.8zM47.8 84.1h0.8v0.8h-0.8zM54.0 82.6h0.8v0.8h-0.8zM62.8 81.4h0.8v0.8h-0.8zM44.8 83.3h0.8v0.8h-0.8zM49.7 83.7h0.8v0.8h-0.8zM48.5 85.5h0.8v0.8h-0.8zM59.3 82.2h0.8v0.8h-0.8zM47.1 83.7h0.8v0.8h-0.8zM60.4 78.9h0.8v0.8h-0.8zM43.6 86.2h0.8v0.8h-0.8zM45.4 83.7h0.8v0.8h-0.8zM60.5 81.0h0.8v0.8h-0.8zM52.2 83.3h0.8v0.8h-0.8zM46.6 84.0h0.8v0.8h-0.8zM49.9 84.1h0.8v0.8h-0.8zM46.3 83.2h0.8v0.8h-0.8zM59.5 80.7h0.8v0.8h-0.8zM47.8 86.0h0.8v0.8h-0.8zM51.8 84.5h0.8v0.8h-0.8zM48.3 85.0h0.8v0.8h-0.8zM48.2 84.0h0.8v0.8h-0.8zM56.8 80.9h0.8v0.8h-0.8zM65.1 81.1h0.8v0.8h-0.8zM64.1 81.5h0.8v0.8h-0.8zM59.1 80.9h0.8v0.8h-0.8zM48.5 83.3h0.8v0.8h-0.8zM52.8 83.0h0.8v0.8h-0.8zM51.7 84.3h0.8v0.8h-0.8zM49.8 84.7h0.8v0.8h-0.8zM54.3 84.0h0.8v0.8h-0.8zM49.0 84.4h0.8v0.8h-0.8zM53.1 84.1h0.8v0.8h-0.8zM58.5 80.8h0.8v0.8h-0.8zM43.5 85.8h0.8v0.8h-0.8zM44.6 84.9h0.8v0.8h-0.8zM54.1 81.7h0.8v0.8h-0.8zM50.6 83.6h0.8v0.8h-0.8zM51.5 82.2h0.8v0.8h-0.8zM49.1 82.9h0.8v0.8h-0.8zM53.1 80.6h0.8v0.8h-0.8zM50.6 81.7h0.8v0.8h-0.8zM60.3 80.0h0.8v0.8h-0.8zM52.3 83.4h0.8v0.8h-0.8zM62.3 80.1h0.8v0.8h-0.8zM64.0 80.4h0.8v0.8h-0.8zM54.6 83.4h0.8v0.8h-0.8zM65.4 80.4h0.8v0.8h-0.8zM48.3 82.9h0.8v0.8h-0.8zM42.9 84.6h0.8v0.8h-0.8zM48.1 83.8h0.8v0.8h-0.8zM55.3 81.1h0.8v0.8h-0.8zM62.4 80.5h0.8v0.8h-0.8zM51.4 82.5h0.8v0.8h-0.8zM59.2 79.8h0.8v0.8h-0.8zM65.1 79.5h0.8v0.8h-0.8zM56.8 81.8h0.8v0.8h-0.8zM51.5 85.1h0.8v0.8h-0.8zM55.3 83.1h0.8v0.8h-0.8zM50.8 84.7h0.8v0.8h-0.8zM46.3 84.6h0.8v0.8h-0.8zM45.5 83.8h0.8v0.8h-0.8zM53.5 81.3h0.8v0.8h-0.8zM47.5 82.1h0.8v0.8h-0.8zM44.5 86.5h0.8v0.8h-0.8zM60.7 81.8h0.8v0.8h-0.8zM48.9 82.5h0.8v0.8h-0.8zM50.9 80.8h0.8v0.8h-0.8zM61.6 80.3h0.8v0.8h-0.8zM58.7 80.0h0.8v0.8h-0.8zM61.6 81.5h0.8v0.8h-0.8zM58.4 82.2h0.8v0.8h-0.8zM42.8 83.1h0.8v0.8h-0.8zM65.5 80.9h0.8v0.8h-0.8zM52.5 81.9h0.8v0.8h-0.8zM64.4 80.1h0.8v0.8h-0.8zM59.4 81.5h0.8v0.8h-0.8zM49.6 79.4h0.8v0.8h-0.8zM46.0 84.7h0.8v0.8h-0.8zM55.1 82.3h0.8v0.8h-0.8zM50.5 81.0h0.8v0.8h-0.8zM49.3 84.7h0.8v0.8h-0.8zM60.9 80.9h0.8v0.8h-0.8zM58.2 80.9h0.8v0.8h-0.8zM46.7 84.8h0.8v0.8h-0.8zM64.3 81.2h0.8v0.8h-0.8zM46.0 84.6h0.8v0.8h-0.8zM56.4 83.3h0.8v0.8h-0.8zM49.5 85.1h0.8v0.8h-0.8zM51.5 83.5h0.8v0.8h-0.8zM45.0 83.9h0.8v0.8h-0.8zM45.3 86.1h0.8v0.8h-0.8zM66.0 81.4h0.8v0.8h-0.8zM53.6 83.6h0.8v0.8h-0.8zM52.7 83.5h0.8v0.8h-0.8zM57.8 81.0h0.8v0.8h-0.8zM65.3 78.0h0.8v0.8h-0.8zM53.6 81.0h0.8v0.8h-0.8zM47.5 84.2h0.8v0.8h-0.8zM46.3 85.0h0.8v0.8h-0.8zM60.1 82.2h0.8v0.8h-0.8zM43.8 88.6h0.8v0.8h-0.8zM42.8 84.5h0.8v0.8h-0.8zM61.1 79.9h0.8v0.8h-0.8zM61.7 79.4h0.8v0.8h-0.8zM66.3 81.1h0.8v0.8h-0.8zM52.3 82.0h0.8v0.8h-0.8zM64.3 80.4h0.8v0.8h-0.8zM48.1 84.7h0.8v0.8h-0.8zM58.2 80.6h0.8v0.8h-0.8zM57.5 82.4h0.8v0.8h-0.8zM63.6 80.6h0.8v0.8h-0.8zM50.8 82.4h0.8v0.8h-0.8zM59.4 80.7h0.8v0.8h-0.8zM47.5 84.6h0.8v0.8h-0.8zM51.1 83.3h0.8v0.8h-0.8zM54.3 83.0h0.8v0.8h-0.8zM55.6 82.0h0.8v0.8h-0.8zM62.8 81.8h0.8v0.8h-0.8zM46.2 84.3h0.8v0.8h-0.8zM65.0 80.8h0.8v0.8h-0.8zM59.3 82.1h0.8v0.8h-0.8zM58.9 81.2h0.8v0.8h-0.8zM46.7 87.3h0.8v0.8h-0.8zM46.4 83.2h0.8v0.8h-0.8zM57.9 83.1h0.8v0.8h-0.8zM63.6 79.4h0.8v0.8h-0.8zM54.5 82.1h0.8v0.8h-0.8zM62.0 79.7h0.8v0.8h-0.8zM57.9 82.0h0.8v0.8h-0.8zM48.1 82.8h0.8v0.8h-0.8zM55.4 82.6h0.8v0.8h-0.8zM52.9 81.8h0.8v0.8h-0.8zM64.5 81.0h0.8v0.8h-0.8zM65.6 79.1h0.8v0.8h-0.8zM60.3 81.1h0.8v0.8h-0.8zM63.7 82.5h0.8v0.8h-0.8zM54.4 84.7h0.8v0.8h-0.8zM58.6 80.9h0.8v0.8h-0.8zM60.0 80.6h0.8v0.8h-0.8zM45.2 83.0h0.8v0.8h-0.8zM49.1 82.3h0.8v0.8h-0.8zM55.5 81.6h0.8v0.8h-0.8zM64.4 82.4h0.8v0.8h-0.8zM65.5 80.7h0.8v0.8h-0.8zM64.8 77.3h0.8v0.8h-0.8zM64.7 83.2h0.8v0.8h-0.8zM65.4 76.9h0.8v0.8h-0.8zM62.9 78.3h0.8v0.8h-0.8zM64.7 78.5h0.8v0.8h-0.8zM64.4 80.3h0.8v0.8h-0.8zM65.3 80.0h0.8v0.8h-0.8zM65.6 76.8h0.8v0.8h-0.8zM65.0 80.5h0.8v0.8h-0.8zM63.4 82.1h0.8v0.8h-0.8zM63.3 76.7h0.8v0.8h-0.8zM66.7 82.2h0.8v0.8h-0.8zM64.9 82.3h0.8v0.8h-0.8zM65.5 77.3h0.8v0.8h-0.8zM65.0 82.4h0.8v0.8h-0.8zM64.5 79.7h0.8v0.8h-0.8zM64.2 81.1h0.8v0.8h-0.8zM64.2 78.4h0.8v0.8h-0.8zM63.6 77.7h0.8v0.8h-0.8zM64.8 80.5h0.8v0.8h-0.8zM64.3 77.5h0.8v0.8h-0.8zM64.9 80.3h0.8v0.8h-0.8zM65.6 78.6h0.8v0.8h-0.8zM64.3 80.6h0.8v0.8h-0.8zM65.8 79.5h0.8v0.8h-0.8zM64.5 77.7h0.8v0.8h-0.8zM64.3 81.5h0.8v0.8h-0.8zM65.3 81.8h0.8v0.8h-0.8zM63.3 81.3h0.8v0.8h-0.8zM63.9 80.8h0.8v0.8h-0.8zM62.7 79.4h0.8v0.8h-0.8zM63.9 82.2h0.8v0.8h-0.8zM64.7 82.2h0.8v0.8h-0.8zM64.2 83.6h0.8v0.8h-0.8zM64.2 83.4h0.8v0.8h-0.8zM64.2 77.6h0.8v0.8h-0.8zM65.3 78.8h0.8v0.8h-0.8zM64.6 76.9h0.8v0.8h-0.8zM64.3 79.8h0.8v0.8h-0.8zM64.0 80.4h0.8v0.8h-0.8zM62.7 81.4h0.8v0.8h-0.8zM64.3 82.6h0.8v0.8h-0.8zM64.3 78.3h0.8v0.8h-0.8zM64.2 80.2h0.8v0.8h-0.8zM65.1 78.7h0.8v0.8h-0.8zM64.0 80.5h0.8v0.8h-0.8zM65.3 76.1h0.8v0.8h-0.8zM63.8 78.2h0.8v0.8h-0.8zM66.0 82.1h0.8v0.8h-0.8zM65.2 80.6h0.8v0.8h-0.8zM63.7 81.9h0.8v0.8h-0.8zM64.2 78.0h0.8v0.8h-0.8zM66.2 76.7h0.8v0.8h-0.8zM65.7 80.0h0.8v0.8h-0.8zM63.9 80.0h0.8v0.8h-0.8zM63.9 80.0h0.8v0.8h-0.8zM64.1 77.2h0.8v0.8h-0.8zM66.8 78.6h0.8v0.8h-0.8z" fill="#000" opacity="0.85"/>
<path d="M43.3 85.8h0.8v0.8h-0.8zM43.1 80.9h0.8v0.8h-0.8zM42.3 72.7h0.8v0.8h-0.8zM43.3 87.8h0.8v0.8h-0.8zM42.3 89.4h0.8v0.8h-0.8zM43.1 97.9h0.8v0.8h-0.8zM42.9 89.7h0.8v0.8h-0.8zM43.1 89.1h0.8v0.8h-0.8zM42.8 84.3h0.8v0.8h-0.8zM43.1 91.0h0.8v0.8h-0.8zM42.3 81.4h0.8v0.8h-0.8zM42.8 93.3h0.8v0.8h-0.8zM42.7 79.1h0.8v0.8h-0.8zM43.2 89.1h0.8v0.8h-0.8zM43.7 86.8h0.8v0.8h-0.8zM43.7 83.1h0.8v0.8h-0.8zM43.2 86.6h0.8v0.8h-0.8zM42.3 84.9h0.8v0.8h-0.8zM43.4 90.5h0.8v0.8h-0.8zM42.6 90.5h0.8v0.8h-0.8zM43.2 89.7h0.8v0.8h-0.8zM42.9 87.3h0.8v0.8h-0.8zM42.4 85.7h0.8v0.8h-0.8zM42.9 83.0h0.8v0.8h-0.8zM42.7 86.7h0.8v0.8h-0.8zM42.9 90.3h0.8v0.8h-0.8zM42.3 84.4h0.8v0.8h-0.8zM42.9 84.5h0.8v0.8h-0.8zM43.0 84.1h0.8v0.8h-0.8zM43.3 85.1h0.8v0.8h-0.8zM42.3 89.1h0.8v0.8h-0.8zM43.6 78.2h0.8v0.8h-0.8zM42.7 86.3h0.8v0.8h-0.8zM43.3 92.1h0.8v0.8h-0.8zM42.7 79.7h0.8v0.8h-0.8zM43.1 90.1h0.8v0.8h-0.8zM43.0 86.3h0.8v0.8h-0.8zM42.4 95.9h0.8v0.8h-0.8zM42.3 79.9h0.8v0.8h-0.8zM43.2 87.2h0.8v0.8h-0.8zM43.1 87.5h0.8v0.8h-0.8zM43.6 91.8h0.8v0.8h-0.8zM42.6 90.1h0.8v0.8h-0.8zM42.3 79.1h0.8v0.8h-0.8zM43.4 84.3h0.8v0.8h-0.8zM41.8 85.9h0.8v0.8h-0.8zM42.5 88.1h0.8v0.8h-0.8zM42.8 82.9h0.8v0.8h-0.8zM42.5 89.1h0.8v0.8h-0.8zM42.4 86.5h0.8v0.8h-0.8zM42.4 87.9h0.8v0.8h-0.8zM43.6 88.3h0.8v0.8h-0.8zM43.3 87.9h0.8v0.8h-0.8zM42.4 84.8h0.8v0.8h-0.8zM42.8 87.8h0.8v0.8h-0.8zM42.5 88.5h0.8v0.8h-0.8zM42.5 86.3h0.8v0.8h-0.8zM42.8 81.4h0.8v0.8h-0.8zM43.3 86.2h0.8v0.8h-0.8zM42.9 85.9h0.8v0.8h-0.8zM41.8 80.4h0.8v0.8h-0.8zM42.4 90.0h0.8v0.8h-0.8zM42.5 88.5h0.8v0.8h-0.8zM42.3 82.6h0.8v0.8h-0.8zM42.6 90.3h0.8v0.8h-0.8zM42.1 85.3h0.8v0.8h-0.8zM43.0 86.6h0.8v0.8h-0.8zM42.8 89.2h0.8v0.8h-0.8zM42.9 82.0h0.8v0.8h-0.8zM43.1 82.9h0.8v0.8h-0.8zM42.6 91.9h0.8v0.8h-0.8zM43.9 91.9h0.8v0.8h-0.8zM43.0 82.9h0.8v0.8h-0.8zM42.5 92.7h0.8v0.8h-0.8zM43.0 80.4h0.8v0.8h-0.8zM43.5 88.4h0.8v0.8h-0.8zM43.4 87.7h0.8v0.8h-0.8zM41.8 83.1h0.8v0.8h-0.8zM42.7 85.3h0.8v0.8h-0.8zM43.5 83.3h0.8v0.8h-0.8zM42.8 85.8h0.8v0.8h-0.8zM42.8 81.8h0.8v0.8h-0.8zM42.2 75.6h0.8v0.8h-0.8zM43.0 85.2h0.8v0.8h-0.8zM42.9 81.8h0.8v0.8h-0.8zM42.8 82.1h0.8v0.8h-0.8zM42.3 87.4h0.8v0.8h-0.8zM43.1 88.4h0.8v0.8h-0.8zM42.8 84.5h0.8v0.8h-0.8zM43.4 91.0h0.8v0.8h-0.8zM42.5 81.6h0.8v0.8h-0.8zM43.0 87.3h0.8v0.8h-0.8zM42.4 95.2h0.8v0.8h-0.8zM41.9 82.7h0.8v0.8h-0.8zM42.9 90.0h0.8v0.8h-0.8zM42.0 84.3h0.8v0.8h-0.8zM43.5 91.7h0.8v0.8h-0.8zM42.7 86.2h0.8v0.8h-0.8zM42.4 87.6h0.8v0.8h-0.8zM42.3 77.8h0.8v0.8h-0.8zM42.1 86.2h0.8v0.8h-0.8zM42.2 90.5h0.8v0.8h-0.8zM43.4 90.0h0.8v0.8h-0.8zM43.1 90.6h0.8v0.8h-0.8zM42.9 89.5h0.8v0.8h-0.8zM43.0 89.2h0.8v0.8h-0.8zM42.3 83.4h0.8v0.8h-0.8zM42.4 89.4h0.8v0.8h-0.8zM43.0 82.8h0.8v0.8h-0.8zM42.4 83.7h0.8v0.8h-0.8zM43.2 85.6h0.8v0.8h-0.8zM42.7 83.2h0.8v0.8h-0.8zM42.7 92.5h0.8v0.8h-0.8zM42.5 84.6h0.8v0.8h-0.8zM43.6 88.9h0.8v0.8h-0.8zM42.3 90.4h0.8v0.8h-0.8zM42.2 88.3h0.8v0.8h-0.8zM41.7 82.0h0.8v0.8h-0.8zM43.2 83.6h0.8v0.8h-0.8zM42.5 86.2h0.8v0.8h-0.8zM42.8 84.1h0.8v0.8h-0.8zM42.5 93.3h0.8v0.8h-0.8zM43.5 87.4h0.8v0.8h-0.8zM42.3 83.9h0.8v0.8h-0.8zM42.7 88.0h0.8v0.8h-0.8zM43.5 83.9h0.8v0.8h-0.8zM42.9 84.3h0.8v0.8h-0.8zM42.9 83.3h0.8v0.8h-0.8zM43.0 90.7h0.8v0.8h-0.8zM42.6 84.7h0.8v0.8h-0.8zM42.9 80.7h0.8v0.8h-0.8zM43.6 80.6h0.8v0.8h-0.8zM42.6 82.5h0.8v0.8h-0.8zM43.5 84.1h0.8v0.8h-0.8zM42.6 93.6h0.8v0.8h-0.8zM42.7 82.9h0.8v0.8h-0.8zM42.8 86.8h0.8v0.8h-0.8zM42.5 85.3h0.8v0.8h-0.8zM42.7 88.9h0.8v0.8h-0.8zM43.2 89.4h0.8v0.8h-0.8zM42.7 89.2h0.8v0.8h-0.8zM42.7 90.7h0.8v0.8h-0.8zM43.0 84.3h0.8v0.8h-0.8zM43.4 79.9h0.8v0.8h-0.8zM42.4 82.8h0.8v0.8h-0.8zM42.7 81.1h0.8v0.8h-0.8zM42.3 78.4h0.8v0.8h-0.8zM42.9 82.9h0.8v0.8h-0.8zM43.8 89.1h0.8v0.8h-0.8zM42.3 91.3h0.8v0.8h-0.8zM42.9 90.4h0.8v0.8h-0.8zM42.3 90.7h0.8v0.8h-0.8zM43.3 84.4h0.8v0.8h-0.8zM42.4 84.5h0.8v0.8h-0.8zM42.9 95.7h0.8v0.8h-0.8zM43.6 92.1h0.8v0.8h-0.8zM42.7 84.7h0.8v0.8h-0.8zM43.0 84.9h0.8v0.8h-0.8zM42.6 85.2h0.8v0.8h-0.8zM43.2 85.8h0.8v0.8h-0.8zM42.9 85.0h0.8v0.8h-0.8zM42.7 84.7h0.8v0.8h-0.8zM43.4 87.0h0.8v0.8h-0.8zM43.5 85.3h0.8v0.8h-0.8zM43.3 80.5h0.8v0.8h-0.8zM42.6 85.8h0.8v0.8h-0.8zM42.5 85.6h0.8v0.8h-0.8zM42.4 85.4h0.8v0.8h-0.8zM42.5 86.0h0.8v0.8h-0.8zM42.7 82.0h0.8v0.8h-0.8zM42.6 86.1h0.8v0.8h-0.8zM42.2 86.4h0.8v0.8h-0.8zM43.4 85.1h0.8v0.8h-0.8zM43.1 88.5h0.8v0.8h-0.8zM42.4 91.3h0.8v0.8h-0.8zM43.9 81.9h0.8v0.8h-0.8zM43.8 83.2h0.8v0.8h-0.8zM43.5 78.7h0.8v0.8h-0.8zM43.3 86.6h0.8v0.8h-0.8zM42.2 82.7h0.8v0.8h-0.8zM42.3 82.4h0.8v0.8h-0.8zM43.0 85.3h0.8v0.8h-0.8zM41.7 84.8h0.8v0.8h-0.8zM43.0 86.4h0.8v0.8h-0.8zM43.6 78.6h0.8v0.8h-0.8zM42.9 86.2h0.8v0.8h-0.8zM43.1 80.6h0.8v0.8h-0.8zM42.2 85.3h0.8v0.8h-0.8zM42.8 78.7h0.8v0.8h-0.8zM43.0 86.0h0.8v0.8h-0.8zM43.1 75.5h0.8v0.8h-0.8zM43.0 82.5h0.8v0.8h-0.8zM42.6 89.2h0.8v0.8h-0.8zM43.6 86.6h0.8v0.8h-0.8zM42.8 91.3h0.8v0.8h-0.8zM42.4 85.4h0.8v0.8h-0.8zM42.6 82.1h0.8v0.8h-0.8zM42.9 94.2h0.8v0.8h-0.8zM42.9 88.0h0.8v0.8h-0.8zM42.8 90.6h0.8v0.8h-0.8zM42.9 82.5h0.8v0.8h-0.8zM42.8 91.8h0.8v0.8h-0.8zM42.8 90.9h0.8v0.8h-0.8zM42.8 94.2h0.8v0.8h-0.8zM42.9 88.7h0.8v0.8h-0.8zM42.7 89.4h0.8v0.8h-0.8zM42.7 80.1h0.8v0.8h-0.8zM42.9 81.2h0.8v0.8h-0.8zM43.5 89.2h0.8v0.8h-0.8zM42.8 88.8h0.8v0.8h-0.8zM41.6 92.2h0.8v0.8h-0.8zM42.5 88.7h0.8v0.8h-0.8zM44.0 79.5h0.8v0.8h-0.8zM42.6 87.4h0.8v0.8h-0.8zM43.0 79.2h0.8v0.8h-0.8zM42.4 92.0h0.8v0.8h-0.8zM42.5 88.3h0.8v0.8h-0.8zM42.2 82.4h0.8v0.8h-0.8zM42.0 87.1h0.8v0.8h-0.8zM43.3 86.4h0.8v0.8h-0.8zM42.7 87.0h0.8v0.8h-0.8zM43.0 84.9h0.8v0.8h-0.8zM43.1 93.9h0.8v0.8h-0.8zM43.8 83.7h0.8v0.8h-0.8zM42.2 93.7h0.8v0.8h-0.8zM43.2 90.9h0.8v0.8h-0.8zM43.1 85.1h0.8v0.8h-0.8zM43.2 90.5h0.8v0.8h-0.8zM43.3 81.7h0.8v0.8h-0.8zM43.3 84.6h0.8v0.8h-0.8z" fill="#000" opacity="0.9"/>
</g>
<line x1="107.20" y1="121.10" x2="193.40" y2="121.10" stroke="#aaa" stroke-width="0.5" />
<rect x="107.20" y="28.50" width="86.20" height="89.80" fill="none" stroke="#3a3a3a" stroke-width="0.9" />
<line x1="109.80" y1="28.50" x2="109.80" y2="118.30" stroke="#444" stroke-width="0.6" />
<line x1="107.20" y1="118.30" x2="109.80" y2="118.30" stroke="#222" stroke-width="0.9" />
<line x1="107.20" y1="111.54" x2="109.80" y2="111.54" stroke="#222" stroke-width="0.6" />
<line x1="107.20" y1="107.59" x2="109.80" y2="107.59" stroke="#222" stroke-width="0.6" />
<line x1="107.20" y1="104.78" x2="109.80" y2="104.78" stroke="#222" stroke-width="0.6" />
<line x1="107.20" y1="102.61" x2="109.80" y2="102.61" stroke="#222" stroke-width="0.6" />
<line x1="107.20" y1="100.83" x2="109.80" y2="100.83" stroke="#222" stroke-width="0.6" />
<line x1="107.20" y1="99.33" x2="109.80" y2="99.33" stroke="#222" stroke-width="0.6" />
<line x1="107.20" y1="98.03" x2="109.80" y2="98.03" stroke="#222" stroke-width="0.6" />
<line x1="107.20" y1="96.88" x2="109.80" y2="96.88" stroke="#222" stroke-width="0.6" />
<line x1="107.20" y1="95.85" x2="109.80" y2="95.85" stroke="#222" stroke-width="0.9" />
<line x1="107.20" y1="89.09" x2="109.80" y2="89.09" stroke="#222" stroke-width="0.6" />
<line x1="107.20" y1="85.14" x2="109.80" y2="85.14" stroke="#222" stroke-width="0.6" />
<line x1="107.20" y1="82.33" x2="109.80" y2="82.33" stroke="#222" stroke-width="0.6" />
<line x1="107.20" y1="80.16" x2="109.80" y2="80.16" stroke="#222" stroke-width="0.6" />
<line x1="107.20" y1="78.38" x2="109.80" y2="78.38" stroke="#222" stroke-width="0.6" />
<line x1="107.20" y1="76.88" x2="109.80" y2="76.88" stroke="#222" stroke-width="0.6" />
<line x1="107.20" y1="75.58" x2="109.80" y2="75.58" stroke="#222" stroke-width="0.6" />
<line x1="107.20" y1="74.43" x2="109.80" y2="74.43" stroke="#222" stroke-width="0.6" />
<line x1="107.20" y1="73.40" x2="109.80" y2="73.40" stroke="#222" stroke-width="0.9" />
<line x1="107.20" y1="66.64" x2="109.80" y2="66.64" stroke="#222" stroke-width="0.6" />
<line x1="107.20" y1="62.69" x2="109.80" y2="62.69" stroke="#222" stroke-width="0.6" />
<line x1="107.20" y1="59.88" x2="109.80" y2="59.88" stroke="#222" stroke-width="0.6" />
<line x1="107.20" y1="57.71" x2="109.80" y2="57.71" stroke="#222" stroke-width="0.6" />
<line x1="107.20" y1="55.93" x2="109.80" y2="55.93" stroke="#222" stroke-width="0.6" />
<line x1="107.20" y1="54.43" x2="109.80" y2="54.43" stroke="#222" stroke-width="0.6" />
<line x1="107.20" y1="53.13" x2="109.80" y2="53.13" stroke="#222" stroke-width="0.6" />
<line x1="107.20" y1="51.98" x2="109.80" y2="51.98" stroke="#222" stroke-width="0.6" />
<line x1="107.20" y1="50.95" x2="109.80" y2="50.95" stroke="#222" stroke-width="0.9" />
<line x1="107.20" y1="44.19" x2="109.80" y2="44.19" stroke="#222" stroke-width="0.6" />
<line x1="107.20" y1="40.24" x2="109.80" y2="40.24" stroke="#222" stroke-width="0.6" />
<line x1="107.20" y1="37.43" x2="109.80" y2="37.43" stroke="#222" stroke-width="0.6" />
<line x1="107.20" y1="35.26" x2="109.80" y2="35.26" stroke="#222" stroke-width="0.6" />
<line x1="107.20" y1="33.48" x2="109.80" y2="33.48" stroke="#222" stroke-width="0.6" />
<line x1="107.20" y1="31.98" x2="109.80" y2="31.98" stroke="#222" stroke-width="0.6" />
<line x1="107.20" y1="30.68" x2="109.80" y2="30.68" stroke="#222" stroke-width="0.6" />
<line x1="107.20" y1="29.53" x2="109.80" y2="29.53" stroke="#222" stroke-width="0.6" />
<line x1="109.60" y1="118.30" x2="109.60" y2="120.90" stroke="#111" stroke-width="0.9" />
<line x1="136.10" y1="118.30" x2="136.10" y2="120.90" stroke="#111" stroke-width="0.9" />
<line x1="162.60" y1="118.30" x2="162.60" y2="120.90" stroke="#111" stroke-width="0.9" />
<line x1="189.10" y1="118.30" x2="189.10" y2="120.90" stroke="#111" stroke-width="0.9" />
<rect x="111.2" y="91.0" width="78.8" height="26.400000000000006" fill="none" stroke="#0a0a0a" stroke-width="0.8" stroke-dasharray="3.6 1.9"/>
<text x="154.2" y="24.0" font-size="7.6" font-weight="bold" text-anchor="middle" fill="#000" stroke="#000" stroke-width="0.3" textLength="10.4" lengthAdjust="spacingAndGlyphs">AD</text>
<text x="111.8" y="84.2" font-size="5.4" font-weight="normal" text-anchor="start" fill="#000" stroke="#000" stroke-width="0.18" textLength="5.6" lengthAdjust="spacingAndGlyphs">R5</text>
<text x="111.8" y="89.5" font-size="5.6" font-weight="normal" text-anchor="start" fill="#000" stroke="#000" stroke-width="0.18" textLength="16.4" lengthAdjust="spacingAndGlyphs">12.2%</text>
<g filter="url(#dsoft)">
<path d="M183.1 58.0h0.85v0.85h-0.85zM165.5 77.6h0.85v0.85h-0.85zM178.8 64.5h0.85v0.85h-0.85zM163.7 80.9h0.85v0.85h-0.85zM183.3 82.4h0.85v0.85h-0.85zM174.5 59.4h0.85v0.85h-0.85zM178.3 75.2h0.85v0.85h-0.85zM180.3 78.3h0.85v0.85h-0.85zM173.1 84.3h0.85v0.85h-0.85zM172.2 69.5h0.85v0.85h-0.85zM176.0 79.1h0.85v0.85h-0.85zM174.9 83.3h0.85v0.85h-0.85zM168.0 82.1h0.85v0.85h-0.85zM181.3 66.7h0.85v0.85h-0.85zM162.6 73.8h0.85v0.85h-0.85zM175.6 83.9h0.85v0.85h-0.85zM174.3 77.3h0.85v0.85h-0.85zM178.7 61.7h0.85v0.85h-0.85zM176.7 69.3h0.85v0.85h-0.85zM166.8 64.7h0.85v0.85h-0.85zM170.0 77.6h0.85v0.85h-0.85zM174.1 66.0h0.85v0.85h-0.85zM163.2 79.0h0.85v0.85h-0.85zM178.6 80.4h0.85v0.85h-0.85zM179.3 58.8h0.85v0.85h-0.85zM168.2 70.0h0.85v0.85h-0.85zM168.5 80.1h0.85v0.85h-0.85zM166.5 57.4h0.85v0.85h-0.85zM171.9 58.4h0.85v0.85h-0.85zM162.6 74.0h0.85v0.85h-0.85z" fill="#000" opacity="0.45"/>
<path d="M143.0 84.9h0.9v0.9h-0.9zM143.0 87.5h0.9v0.9h-0.9zM140.2 85.7h0.9v0.9h-0.9zM138.3 86.2h0.9v0.9h-0.9zM150.1 88.4h0.9v0.9h-0.9zM144.8 89.4h0.9v0.9h-0.9zM137.1 87.6h0.9v0.9h-0.9zM145.7 89.4h0.9v0.9h-0.9zM144.2 86.6h0.9v0.9h-0.9zM148.1 90.5h0.9v0.9h-0.9zM143.4 91.2h0.9v0.9h-0.9zM142.2 89.8h0.9v0.9h-0.9zM138.8 90.4h0.9v0.9h-0.9zM152.7 89.9h0.9v0.9h-0.9zM142.9 88.8h0.9v0.9h-0.9zM149.2 84.7h0.9v0.9h-0.9zM146.8 91.2h0.9v0.9h-0.9zM154.4 91.3h0.9v0.9h-0.9zM149.0 85.0h0.9v0.9h-0.9zM147.7 89.6h0.9v0.9h-0.9zM155.0 89.6h0.9v0.9h-0.9zM151.1 88.0h0.9v0.9h-0.9zM148.1 83.3h0.9v0.9h-0.9zM148.8 90.5h0.9v0.9h-0.9zM139.9 84.3h0.9v0.9h-0.9zM139.6 84.0h0.9v0.9h-0.9zM139.4 78.9h0.9v0.9h-0.9zM142.6 81.1h0.9v0.9h-0.9zM135.2 86.4h0.9v0.9h-0.9zM137.3 81.3h0.9v0.9h-0.9zM142.8 88.3h0.9v0.9h-0.9zM141.5 90.7h0.9v0.9h-0.9zM148.5 81.5h0.9v0.9h-0.9zM144.9 89.8h0.9v0.9h-0.9zM142.3 87.8h0.9v0.9h-0.9zM146.7 90.3h0.9v0.9h-0.9zM158.0 86.0h0.9v0.9h-0.9zM138.2 87.4h0.9v0.9h-0.9zM149.5 89.2h0.9v0.9h-0.9zM150.5 75.2h0.9v0.9h-0.9zM138.6 91.2h0.9v0.9h-0.9zM135.7 79.1h0.9v0.9h-0.9zM140.3 86.7h0.9v0.9h-0.9zM139.3 88.5h0.9v0.9h-0.9zM152.7 89.7h0.9v0.9h-0.9zM144.1 91.2h0.9v0.9h-0.9zM142.3 86.6h0.9v0.9h-0.9zM148.0 77.7h0.9v0.9h-0.9zM144.1 75.2h0.9v0.9h-0.9zM154.0 85.9h0.9v0.9h-0.9zM138.6 83.9h0.9v0.9h-0.9zM141.9 79.2h0.9v0.9h-0.9zM142.1 90.9h0.9v0.9h-0.9zM158.3 90.5h0.9v0.9h-0.9zM150.2 88.3h0.9v0.9h-0.9zM141.3 85.7h0.9v0.9h-0.9zM154.9 85.7h0.9v0.9h-0.9zM138.0 84.7h0.9v0.9h-0.9zM149.4 88.5h0.9v0.9h-0.9zM137.2 91.1h0.9v0.9h-0.9zM135.5 86.8h0.9v0.9h-0.9zM151.4 86.4h0.9v0.9h-0.9zM141.2 90.3h0.9v0.9h-0.9zM148.5 84.8h0.9v0.9h-0.9zM138.5 86.8h0.9v0.9h-0.9zM140.3 89.6h0.9v0.9h-0.9zM148.4 86.4h0.9v0.9h-0.9zM147.2 76.1h0.9v0.9h-0.9zM142.5 91.0h0.9v0.9h-0.9zM149.0 85.4h0.9v0.9h-0.9zM139.3 87.5h0.9v0.9h-0.9zM146.8 83.5h0.9v0.9h-0.9zM152.7 84.5h0.9v0.9h-0.9zM149.6 91.1h0.9v0.9h-0.9zM137.1 90.9h0.9v0.9h-0.9zM151.5 75.2h0.9v0.9h-0.9zM136.2 81.7h0.9v0.9h-0.9zM137.2 85.4h0.9v0.9h-0.9zM146.8 87.6h0.9v0.9h-0.9zM146.8 76.4h0.9v0.9h-0.9zM139.2 90.6h0.9v0.9h-0.9zM141.3 78.4h0.9v0.9h-0.9zM145.4 90.9h0.9v0.9h-0.9zM139.2 91.0h0.9v0.9h-0.9zM142.8 79.8h0.9v0.9h-0.9zM143.7 83.2h0.9v0.9h-0.9zM134.7 89.3h0.9v0.9h-0.9zM141.6 79.1h0.9v0.9h-0.9zM138.8 87.7h0.9v0.9h-0.9zM142.3 85.3h0.9v0.9h-0.9zM145.0 90.0h0.9v0.9h-0.9zM141.9 90.7h0.9v0.9h-0.9zM138.3 87.1h0.9v0.9h-0.9zM139.6 83.1h0.9v0.9h-0.9zM150.3 79.4h0.9v0.9h-0.9zM149.4 82.1h0.9v0.9h-0.9zM139.7 89.0h0.9v0.9h-0.9zM144.3 90.1h0.9v0.9h-0.9zM146.6 84.1h0.9v0.9h-0.9zM148.2 91.4h0.9v0.9h-0.9zM148.7 83.7h0.9v0.9h-0.9zM140.9 91.0h0.9v0.9h-0.9zM150.4 89.6h0.9v0.9h-0.9zM141.0 88.6h0.9v0.9h-0.9zM141.8 86.0h0.9v0.9h-0.9zM145.0 88.3h0.9v0.9h-0.9zM141.7 86.2h0.9v0.9h-0.9zM144.5 82.4h0.9v0.9h-0.9zM141.4 91.2h0.9v0.9h-0.9zM138.4 73.1h0.9v0.9h-0.9zM138.3 90.0h0.9v0.9h-0.9zM149.6 85.6h0.9v0.9h-0.9zM136.9 87.0h0.9v0.9h-0.9zM138.6 90.3h0.9v0.9h-0.9zM147.8 88.5h0.9v0.9h-0.9zM143.6 80.3h0.9v0.9h-0.9zM139.9 90.5h0.9v0.9h-0.9zM140.9 90.0h0.9v0.9h-0.9zM141.5 81.7h0.9v0.9h-0.9zM135.6 86.7h0.9v0.9h-0.9zM158.3 88.5h0.9v0.9h-0.9zM139.0 91.0h0.9v0.9h-0.9zM138.4 90.2h0.9v0.9h-0.9zM152.2 88.0h0.9v0.9h-0.9zM141.7 88.5h0.9v0.9h-0.9zM148.9 87.8h0.9v0.9h-0.9zM142.1 86.9h0.9v0.9h-0.9zM149.2 87.3h0.9v0.9h-0.9zM139.3 87.1h0.9v0.9h-0.9zM138.1 91.0h0.9v0.9h-0.9zM153.4 89.2h0.9v0.9h-0.9zM137.0 87.2h0.9v0.9h-0.9zM144.4 90.9h0.9v0.9h-0.9zM147.2 86.2h0.9v0.9h-0.9zM144.8 90.5h0.9v0.9h-0.9zM146.3 80.6h0.9v0.9h-0.9zM144.2 91.1h0.9v0.9h-0.9zM138.6 89.9h0.9v0.9h-0.9zM142.3 89.6h0.9v0.9h-0.9zM141.6 86.9h0.9v0.9h-0.9zM137.3 88.7h0.9v0.9h-0.9zM149.5 86.3h0.9v0.9h-0.9zM137.9 88.4h0.9v0.9h-0.9zM139.5 85.6h0.9v0.9h-0.9zM148.1 84.2h0.9v0.9h-0.9zM157.8 90.5h0.9v0.9h-0.9zM142.1 81.2h0.9v0.9h-0.9zM141.2 89.7h0.9v0.9h-0.9zM155.8 86.0h0.9v0.9h-0.9zM141.6 78.1h0.9v0.9h-0.9zM135.5 82.6h0.9v0.9h-0.9zM146.3 77.1h0.9v0.9h-0.9zM140.3 84.8h0.9v0.9h-0.9zM140.0 90.9h0.9v0.9h-0.9zM145.8 81.8h0.9v0.9h-0.9zM142.3 89.6h0.9v0.9h-0.9zM139.3 83.3h0.9v0.9h-0.9zM139.4 85.8h0.9v0.9h-0.9zM139.3 89.7h0.9v0.9h-0.9zM148.1 82.2h0.9v0.9h-0.9zM141.6 85.4h0.9v0.9h-0.9zM140.7 79.2h0.9v0.9h-0.9zM140.8 84.2h0.9v0.9h-0.9zM142.9 84.9h0.9v0.9h-0.9zM145.6 88.5h0.9v0.9h-0.9zM146.6 89.1h0.9v0.9h-0.9zM140.1 89.6h0.9v0.9h-0.9zM141.9 91.3h0.9v0.9h-0.9zM136.8 88.8h0.9v0.9h-0.9zM143.8 89.2h0.9v0.9h-0.9zM147.0 85.8h0.9v0.9h-0.9zM144.8 88.2h0.9v0.9h-0.9zM139.8 78.4h0.9v0.9h-0.9zM146.9 87.7h0.9v0.9h-0.9zM144.0 89.0h0.9v0.9h-0.9zM135.3 88.5h0.9v0.9h-0.9zM138.9 88.4h0.9v0.9h-0.9zM140.3 88.0h0.9v0.9h-0.9zM142.1 85.4h0.9v0.9h-0.9zM148.5 80.6h0.9v0.9h-0.9zM153.4 82.3h0.9v0.9h-0.9zM142.7 88.7h0.9v0.9h-0.9zM144.1 89.4h0.9v0.9h-0.9zM143.7 83.7h0.9v0.9h-0.9zM144.5 90.4h0.9v0.9h-0.9zM143.4 84.8h0.9v0.9h-0.9zM146.9 86.4h0.9v0.9h-0.9zM144.9 88.6h0.9v0.9h-0.9zM146.7 86.6h0.9v0.9h-0.9zM144.4 89.7h0.9v0.9h-0.9zM143.7 90.7h0.9v0.9h-0.9zM136.1 88.8h0.9v0.9h-0.9zM136.0 87.2h0.9v0.9h-0.9zM143.4 87.7h0.9v0.9h-0.9zM145.3 84.6h0.9v0.9h-0.9zM146.8 90.4h0.9v0.9h-0.9zM147.1 89.3h0.9v0.9h-0.9zM142.4 82.9h0.9v0.9h-0.9zM147.2 86.0h0.9v0.9h-0.9zM138.8 85.4h0.9v0.9h-0.9zM136.2 81.2h0.9v0.9h-0.9zM147.7 91.2h0.9v0.9h-0.9zM139.5 90.9h0.9v0.9h-0.9zM141.9 82.7h0.9v0.9h-0.9zM150.5 87.3h0.9v0.9h-0.9zM145.5 85.4h0.9v0.9h-0.9zM142.1 90.5h0.9v0.9h-0.9zM143.7 84.9h0.9v0.9h-0.9zM142.4 91.0h0.9v0.9h-0.9zM143.6 88.5h0.9v0.9h-0.9zM140.4 82.3h0.9v0.9h-0.9zM141.9 90.9h0.9v0.9h-0.9zM145.9 87.6h0.9v0.9h-0.9zM141.0 90.5h0.9v0.9h-0.9zM149.5 86.8h0.9v0.9h-0.9zM146.7 89.7h0.9v0.9h-0.9zM138.9 83.0h0.9v0.9h-0.9zM146.0 89.0h0.9v0.9h-0.9zM149.2 87.7h0.9v0.9h-0.9zM141.3 85.5h0.9v0.9h-0.9zM140.1 87.5h0.9v0.9h-0.9zM145.2 87.3h0.9v0.9h-0.9zM146.5 86.5h0.9v0.9h-0.9zM143.3 87.0h0.9v0.9h-0.9zM142.5 89.8h0.9v0.9h-0.9zM141.0 84.7h0.9v0.9h-0.9zM136.2 78.6h0.9v0.9h-0.9zM142.6 86.4h0.9v0.9h-0.9zM146.5 87.8h0.9v0.9h-0.9zM157.6 85.6h0.9v0.9h-0.9zM153.5 80.9h0.9v0.9h-0.9zM149.7 87.6h0.9v0.9h-0.9zM142.4 90.8h0.9v0.9h-0.9zM135.7 90.4h0.9v0.9h-0.9zM138.7 91.3h0.9v0.9h-0.9zM147.3 84.6h0.9v0.9h-0.9zM139.2 87.2h0.9v0.9h-0.9zM144.7 91.1h0.9v0.9h-0.9zM142.7 91.0h0.9v0.9h-0.9zM140.4 86.6h0.9v0.9h-0.9zM140.0 88.9h0.9v0.9h-0.9zM147.5 91.2h0.9v0.9h-0.9zM143.5 83.5h0.9v0.9h-0.9zM148.7 91.3h0.9v0.9h-0.9zM144.1 89.3h0.9v0.9h-0.9zM144.2 86.7h0.9v0.9h-0.9zM141.1 90.9h0.9v0.9h-0.9zM141.7 86.7h0.9v0.9h-0.9zM143.2 90.3h0.9v0.9h-0.9zM148.2 91.2h0.9v0.9h-0.9zM152.3 89.1h0.9v0.9h-0.9zM141.1 86.7h0.9v0.9h-0.9zM140.9 89.4h0.9v0.9h-0.9zM139.9 83.9h0.9v0.9h-0.9zM148.0 89.1h0.9v0.9h-0.9zM147.9 89.1h0.9v0.9h-0.9zM142.6 91.2h0.9v0.9h-0.9zM148.8 79.2h0.9v0.9h-0.9zM140.3 84.3h0.9v0.9h-0.9zM144.2 84.4h0.9v0.9h-0.9zM144.2 90.6h0.9v0.9h-0.9zM137.4 86.6h0.9v0.9h-0.9zM137.1 82.7h0.9v0.9h-0.9zM143.2 85.2h0.9v0.9h-0.9zM141.0 90.5h0.9v0.9h-0.9zM141.2 86.0h0.9v0.9h-0.9zM147.8 90.2h0.9v0.9h-0.9zM138.0 89.1h0.9v0.9h-0.9zM142.0 90.5h0.9v0.9h-0.9zM141.1 90.1h0.9v0.9h-0.9zM135.0 82.0h0.9v0.9h-0.9zM135.7 89.1h0.9v0.9h-0.9zM137.8 80.6h0.9v0.9h-0.9zM152.7 90.9h0.9v0.9h-0.9zM139.1 90.8h0.9v0.9h-0.9zM142.0 84.2h0.9v0.9h-0.9zM149.0 89.2h0.9v0.9h-0.9zM145.3 86.2h0.9v0.9h-0.9zM157.6 88.9h0.9v0.9h-0.9zM145.5 81.6h0.9v0.9h-0.9zM140.0 89.9h0.9v0.9h-0.9zM141.6 87.3h0.9v0.9h-0.9zM147.3 88.8h0.9v0.9h-0.9zM139.5 86.0h0.9v0.9h-0.9zM141.3 87.8h0.9v0.9h-0.9zM146.6 89.3h0.9v0.9h-0.9zM140.5 80.4h0.9v0.9h-0.9zM140.4 74.3h0.9v0.9h-0.9zM147.0 88.4h0.9v0.9h-0.9zM141.9 85.6h0.9v0.9h-0.9zM141.1 90.7h0.9v0.9h-0.9zM142.7 84.2h0.9v0.9h-0.9zM152.5 80.9h0.9v0.9h-0.9zM135.3 86.4h0.9v0.9h-0.9zM138.1 89.8h0.9v0.9h-0.9zM156.5 80.9h0.9v0.9h-0.9zM153.6 85.8h0.9v0.9h-0.9zM137.5 75.6h0.9v0.9h-0.9zM135.4 71.7h0.9v0.9h-0.9zM145.4 85.3h0.9v0.9h-0.9zM140.2 80.7h0.9v0.9h-0.9zM136.5 68.0h0.9v0.9h-0.9zM134.5 78.0h0.9v0.9h-0.9zM147.7 82.1h0.9v0.9h-0.9zM143.5 89.0h0.9v0.9h-0.9zM151.1 77.6h0.9v0.9h-0.9zM154.8 65.6h0.9v0.9h-0.9zM140.3 77.1h0.9v0.9h-0.9zM148.0 89.6h0.9v0.9h-0.9zM150.0 61.4h0.9v0.9h-0.9zM156.6 74.5h0.9v0.9h-0.9zM138.1 83.6h0.9v0.9h-0.9zM148.7 86.5h0.9v0.9h-0.9zM146.8 67.9h0.9v0.9h-0.9zM144.8 74.5h0.9v0.9h-0.9zM141.8 78.0h0.9v0.9h-0.9zM136.7 67.8h0.9v0.9h-0.9zM136.0 60.8h0.9v0.9h-0.9zM146.1 82.9h0.9v0.9h-0.9zM143.1 88.0h0.9v0.9h-0.9zM148.2 80.4h0.9v0.9h-0.9zM140.2 87.9h0.9v0.9h-0.9zM141.7 86.2h0.9v0.9h-0.9zM139.1 89.5h0.9v0.9h-0.9zM150.1 65.5h0.9v0.9h-0.9zM151.3 64.8h0.9v0.9h-0.9zM142.6 71.7h0.9v0.9h-0.9zM141.4 71.2h0.9v0.9h-0.9zM137.0 72.4h0.9v0.9h-0.9zM135.3 84.7h0.9v0.9h-0.9zM141.8 82.1h0.9v0.9h-0.9zM143.7 90.2h0.9v0.9h-0.9zM155.0 81.9h0.9v0.9h-0.9zM154.0 88.3h0.9v0.9h-0.9zM156.3 72.8h0.9v0.9h-0.9zM147.8 62.1h0.9v0.9h-0.9zM142.1 70.2h0.9v0.9h-0.9zM148.6 60.2h0.9v0.9h-0.9zM151.9 62.3h0.9v0.9h-0.9zM143.6 75.0h0.9v0.9h-0.9zM154.0 79.6h0.9v0.9h-0.9zM136.7 80.7h0.9v0.9h-0.9zM138.9 79.1h0.9v0.9h-0.9zM143.3 89.6h0.9v0.9h-0.9zM144.2 68.4h0.9v0.9h-0.9zM140.8 89.7h0.9v0.9h-0.9zM141.7 67.5h0.9v0.9h-0.9zM146.4 80.8h0.9v0.9h-0.9zM156.5 62.5h0.9v0.9h-0.9zM141.2 82.4h0.9v0.9h-0.9zM145.4 81.4h0.9v0.9h-0.9zM149.9 62.9h0.9v0.9h-0.9zM134.3 65.5h0.9v0.9h-0.9zM140.6 65.6h0.9v0.9h-0.9zM140.2 63.5h0.9v0.9h-0.9zM133.7 76.3h0.9v0.9h-0.9zM151.9 64.9h0.9v0.9h-0.9zM135.4 82.6h0.9v0.9h-0.9zM135.0 64.3h0.9v0.9h-0.9zM145.3 69.2h0.9v0.9h-0.9zM152.6 75.7h0.9v0.9h-0.9zM146.1 71.6h0.9v0.9h-0.9zM133.7 85.4h0.9v0.9h-0.9zM142.7 85.6h0.9v0.9h-0.9zM135.6 73.4h0.9v0.9h-0.9zM146.5 64.8h0.9v0.9h-0.9zM134.9 89.0h0.9v0.9h-0.9zM156.5 91.0h0.9v0.9h-0.9zM146.6 82.7h0.9v0.9h-0.9zM148.0 74.8h0.9v0.9h-0.9zM137.3 79.9h0.9v0.9h-0.9zM144.1 81.0h0.9v0.9h-0.9zM134.1 69.1h0.9v0.9h-0.9zM135.8 83.7h0.9v0.9h-0.9zM145.0 68.9h0.9v0.9h-0.9zM152.5 76.1h0.9v0.9h-0.9zM140.3 72.2h0.9v0.9h-0.9zM133.0 61.9h0.9v0.9h-0.9zM133.9 89.8h0.9v0.9h-0.9zM155.0 76.9h0.9v0.9h-0.9zM156.5 76.7h0.9v0.9h-0.9zM150.0 63.2h0.9v0.9h-0.9zM143.9 78.9h0.9v0.9h-0.9zM143.2 80.2h0.9v0.9h-0.9zM141.6 80.3h0.9v0.9h-0.9zM138.2 75.2h0.9v0.9h-0.9zM143.7 76.3h0.9v0.9h-0.9zM134.4 67.5h0.9v0.9h-0.9zM150.9 65.1h0.9v0.9h-0.9zM144.9 90.8h0.9v0.9h-0.9zM148.2 82.8h0.9v0.9h-0.9zM152.3 90.0h0.9v0.9h-0.9zM142.7 72.3h0.9v0.9h-0.9zM151.9 60.8h0.9v0.9h-0.9zM144.7 68.4h0.9v0.9h-0.9zM146.9 82.7h0.9v0.9h-0.9zM154.5 75.7h0.9v0.9h-0.9zM150.3 62.5h0.9v0.9h-0.9zM149.5 88.8h0.9v0.9h-0.9zM148.4 75.2h0.9v0.9h-0.9zM145.8 72.8h0.9v0.9h-0.9zM137.5 66.1h0.9v0.9h-0.9zM152.9 76.0h0.9v0.9h-0.9zM134.0 79.1h0.9v0.9h-0.9zM153.8 80.2h0.9v0.9h-0.9zM137.6 94.8h0.9v0.9h-0.9zM137.6 93.3h0.9v0.9h-0.9zM143.2 92.1h0.9v0.9h-0.9zM139.3 92.2h0.9v0.9h-0.9zM137.4 91.6h0.9v0.9h-0.9zM146.9 93.8h0.9v0.9h-0.9zM139.0 94.8h0.9v0.9h-0.9zM142.5 93.1h0.9v0.9h-0.9zM152.5 93.8h0.9v0.9h-0.9zM143.3 94.1h0.9v0.9h-0.9zM148.8 92.6h0.9v0.9h-0.9zM135.4 94.1h0.9v0.9h-0.9zM149.0 93.6h0.9v0.9h-0.9zM136.3 94.1h0.9v0.9h-0.9zM137.5 94.3h0.9v0.9h-0.9zM146.4 93.7h0.9v0.9h-0.9zM135.5 92.8h0.9v0.9h-0.9zM148.7 91.9h0.9v0.9h-0.9zM134.8 92.9h0.9v0.9h-0.9zM151.1 93.7h0.9v0.9h-0.9zM138.6 91.8h0.9v0.9h-0.9zM150.7 94.4h0.9v0.9h-0.9zM148.0 92.2h0.9v0.9h-0.9zM149.0 91.5h0.9v0.9h-0.9zM137.4 92.6h0.9v0.9h-0.9z" fill="#000" opacity="0.8"/>
<path d="M132.8 88.2h0.85v0.85h-0.85zM132.6 78.1h0.85v0.85h-0.85zM131.7 89.9h0.85v0.85h-0.85zM132.0 78.4h0.85v0.85h-0.85zM132.2 80.0h0.85v0.85h-0.85zM132.2 93.2h0.85v0.85h-0.85zM131.6 83.8h0.85v0.85h-0.85zM132.5 85.8h0.85v0.85h-0.85zM132.3 82.0h0.85v0.85h-0.85zM132.0 74.8h0.85v0.85h-0.85zM132.1 91.9h0.85v0.85h-0.85zM131.6 85.0h0.85v0.85h-0.85zM132.5 91.6h0.85v0.85h-0.85zM132.8 81.8h0.85v0.85h-0.85zM132.0 94.1h0.85v0.85h-0.85zM132.0 87.2h0.85v0.85h-0.85zM131.8 82.8h0.85v0.85h-0.85zM130.7 83.4h0.85v0.85h-0.85zM131.1 81.2h0.85v0.85h-0.85zM131.7 92.2h0.85v0.85h-0.85zM132.6 87.8h0.85v0.85h-0.85zM131.9 79.4h0.85v0.85h-0.85zM132.4 82.0h0.85v0.85h-0.85zM132.1 90.3h0.85v0.85h-0.85zM132.1 85.8h0.85v0.85h-0.85zM131.7 90.8h0.85v0.85h-0.85zM132.5 89.2h0.85v0.85h-0.85zM133.0 78.3h0.85v0.85h-0.85zM132.2 88.9h0.85v0.85h-0.85zM132.4 87.3h0.85v0.85h-0.85zM132.4 78.7h0.85v0.85h-0.85zM132.1 91.3h0.85v0.85h-0.85zM132.2 85.0h0.85v0.85h-0.85zM132.6 77.7h0.85v0.85h-0.85zM132.4 93.0h0.85v0.85h-0.85zM132.1 82.0h0.85v0.85h-0.85zM132.5 83.8h0.85v0.85h-0.85zM131.8 86.7h0.85v0.85h-0.85zM131.3 89.0h0.85v0.85h-0.85zM131.6 83.3h0.85v0.85h-0.85zM132.6 85.7h0.85v0.85h-0.85zM132.3 92.3h0.85v0.85h-0.85zM133.0 95.6h0.85v0.85h-0.85zM131.9 90.2h0.85v0.85h-0.85zM131.3 89.6h0.85v0.85h-0.85zM132.8 82.5h0.85v0.85h-0.85zM132.4 89.8h0.85v0.85h-0.85zM132.1 82.9h0.85v0.85h-0.85zM133.0 79.7h0.85v0.85h-0.85zM132.3 90.3h0.85v0.85h-0.85zM132.3 93.3h0.85v0.85h-0.85zM132.9 88.1h0.85v0.85h-0.85zM133.1 89.4h0.85v0.85h-0.85zM131.6 84.4h0.85v0.85h-0.85zM132.3 86.8h0.85v0.85h-0.85zM131.3 96.6h0.85v0.85h-0.85zM131.4 80.6h0.85v0.85h-0.85zM132.4 86.8h0.85v0.85h-0.85zM133.0 86.9h0.85v0.85h-0.85zM132.4 89.3h0.85v0.85h-0.85zM131.8 79.8h0.85v0.85h-0.85zM132.0 90.6h0.85v0.85h-0.85zM132.0 91.7h0.85v0.85h-0.85zM131.9 89.4h0.85v0.85h-0.85zM132.2 89.8h0.85v0.85h-0.85zM132.2 86.8h0.85v0.85h-0.85zM132.0 91.7h0.85v0.85h-0.85zM132.2 88.2h0.85v0.85h-0.85zM132.5 81.7h0.85v0.85h-0.85zM131.8 85.7h0.85v0.85h-0.85zM132.8 81.0h0.85v0.85h-0.85zM131.7 81.3h0.85v0.85h-0.85zM132.0 80.9h0.85v0.85h-0.85zM131.8 88.4h0.85v0.85h-0.85zM131.6 85.9h0.85v0.85h-0.85zM131.6 85.0h0.85v0.85h-0.85zM132.5 76.6h0.85v0.85h-0.85zM132.2 87.0h0.85v0.85h-0.85zM132.2 87.1h0.85v0.85h-0.85zM132.4 79.9h0.85v0.85h-0.85zM132.1 88.9h0.85v0.85h-0.85zM132.8 79.6h0.85v0.85h-0.85zM131.9 79.5h0.85v0.85h-0.85zM132.2 80.9h0.85v0.85h-0.85zM131.7 89.5h0.85v0.85h-0.85zM133.3 76.3h0.85v0.85h-0.85zM133.0 81.6h0.85v0.85h-0.85zM132.5 87.6h0.85v0.85h-0.85zM132.8 85.0h0.85v0.85h-0.85zM131.8 85.6h0.85v0.85h-0.85zM132.6 81.8h0.85v0.85h-0.85zM132.4 85.9h0.85v0.85h-0.85zM132.3 86.0h0.85v0.85h-0.85zM132.5 89.7h0.85v0.85h-0.85zM132.0 84.3h0.85v0.85h-0.85zM131.1 81.8h0.85v0.85h-0.85zM131.4 89.1h0.85v0.85h-0.85zM131.6 82.7h0.85v0.85h-0.85zM132.5 90.6h0.85v0.85h-0.85zM132.8 82.0h0.85v0.85h-0.85zM132.3 90.9h0.85v0.85h-0.85zM131.8 84.9h0.85v0.85h-0.85zM131.6 82.9h0.85v0.85h-0.85zM132.6 86.4h0.85v0.85h-0.85zM132.0 83.3h0.85v0.85h-0.85zM133.0 89.4h0.85v0.85h-0.85zM131.6 96.0h0.85v0.85h-0.85zM132.0 85.2h0.85v0.85h-0.85zM131.9 83.3h0.85v0.85h-0.85zM132.5 79.2h0.85v0.85h-0.85zM132.2 84.4h0.85v0.85h-0.85zM133.1 87.8h0.85v0.85h-0.85zM132.4 88.4h0.85v0.85h-0.85zM132.5 86.5h0.85v0.85h-0.85zM131.0 87.9h0.85v0.85h-0.85zM132.0 89.2h0.85v0.85h-0.85zM132.4 83.4h0.85v0.85h-0.85zM131.7 81.2h0.85v0.85h-0.85zM132.3 85.5h0.85v0.85h-0.85zM131.7 84.3h0.85v0.85h-0.85zM132.4 82.9h0.85v0.85h-0.85zM132.1 83.1h0.85v0.85h-0.85zM130.9 86.4h0.85v0.85h-0.85zM132.2 89.7h0.85v0.85h-0.85zM132.9 82.6h0.85v0.85h-0.85zM132.5 87.2h0.85v0.85h-0.85zM132.2 89.8h0.85v0.85h-0.85zM132.6 80.1h0.85v0.85h-0.85zM132.9 85.1h0.85v0.85h-0.85zM131.9 82.7h0.85v0.85h-0.85zM132.1 80.7h0.85v0.85h-0.85zM132.7 87.9h0.85v0.85h-0.85zM131.7 89.8h0.85v0.85h-0.85zM132.3 86.3h0.85v0.85h-0.85zM132.7 85.5h0.85v0.85h-0.85zM132.1 88.3h0.85v0.85h-0.85zM131.3 80.4h0.85v0.85h-0.85zM132.4 90.9h0.85v0.85h-0.85zM131.3 86.0h0.85v0.85h-0.85zM131.9 84.6h0.85v0.85h-0.85zM132.5 92.9h0.85v0.85h-0.85zM133.1 90.3h0.85v0.85h-0.85zM132.5 86.6h0.85v0.85h-0.85zM131.3 87.8h0.85v0.85h-0.85zM131.6 80.8h0.85v0.85h-0.85zM132.3 78.7h0.85v0.85h-0.85zM133.1 88.7h0.85v0.85h-0.85zM132.4 88.2h0.85v0.85h-0.85zM132.3 86.3h0.85v0.85h-0.85zM132.6 82.9h0.85v0.85h-0.85zM132.3 86.7h0.85v0.85h-0.85zM132.6 80.9h0.85v0.85h-0.85zM132.3 85.4h0.85v0.85h-0.85zM132.5 88.5h0.85v0.85h-0.85zM132.3 88.1h0.85v0.85h-0.85zM132.4 92.3h0.85v0.85h-0.85zM132.3 88.4h0.85v0.85h-0.85zM131.7 85.0h0.85v0.85h-0.85zM132.6 90.8h0.85v0.85h-0.85zM131.7 85.8h0.85v0.85h-0.85zM132.1 86.2h0.85v0.85h-0.85zM132.0 84.0h0.85v0.85h-0.85zM132.2 86.5h0.85v0.85h-0.85zM132.7 82.0h0.85v0.85h-0.85zM131.7 89.6h0.85v0.85h-0.85zM132.4 85.1h0.85v0.85h-0.85zM131.6 90.8h0.85v0.85h-0.85zM131.7 91.2h0.85v0.85h-0.85zM132.3 85.3h0.85v0.85h-0.85zM132.1 89.7h0.85v0.85h-0.85zM132.2 77.9h0.85v0.85h-0.85zM131.8 76.1h0.85v0.85h-0.85zM132.4 90.2h0.85v0.85h-0.85zM132.7 79.7h0.85v0.85h-0.85zM133.3 94.4h0.85v0.85h-0.85zM132.1 76.8h0.85v0.85h-0.85zM131.8 90.8h0.85v0.85h-0.85zM133.2 83.5h0.85v0.85h-0.85zM131.3 81.5h0.85v0.85h-0.85zM133.2 85.9h0.85v0.85h-0.85zM131.5 76.3h0.85v0.85h-0.85zM132.5 89.7h0.85v0.85h-0.85zM132.0 85.0h0.85v0.85h-0.85zM132.2 84.4h0.85v0.85h-0.85zM131.9 83.3h0.85v0.85h-0.85zM131.9 91.6h0.85v0.85h-0.85zM132.4 90.7h0.85v0.85h-0.85zM133.1 75.4h0.85v0.85h-0.85zM132.2 90.4h0.85v0.85h-0.85zM132.1 83.2h0.85v0.85h-0.85zM132.4 83.5h0.85v0.85h-0.85zM131.8 84.5h0.85v0.85h-0.85zM132.2 86.0h0.85v0.85h-0.85zM132.6 86.1h0.85v0.85h-0.85zM132.0 100.0h0.85v0.85h-0.85zM132.1 84.7h0.85v0.85h-0.85zM132.1 82.7h0.85v0.85h-0.85zM131.4 86.9h0.85v0.85h-0.85zM132.9 77.6h0.85v0.85h-0.85zM131.8 87.9h0.85v0.85h-0.85zM131.9 88.4h0.85v0.85h-0.85zM132.2 80.9h0.85v0.85h-0.85zM132.1 83.6h0.85v0.85h-0.85zM132.5 74.3h0.85v0.85h-0.85zM132.4 92.1h0.85v0.85h-0.85zM132.3 87.1h0.85v0.85h-0.85zM131.9 87.5h0.85v0.85h-0.85zM132.1 80.0h0.85v0.85h-0.85zM131.6 75.3h0.85v0.85h-0.85zM132.4 86.7h0.85v0.85h-0.85zM132.7 87.1h0.85v0.85h-0.85zM132.5 79.8h0.85v0.85h-0.85zM131.3 83.3h0.85v0.85h-0.85zM132.0 87.6h0.85v0.85h-0.85zM132.1 85.2h0.85v0.85h-0.85zM132.2 87.1h0.85v0.85h-0.85zM132.3 87.4h0.85v0.85h-0.85zM131.9 85.5h0.85v0.85h-0.85zM131.5 80.8h0.85v0.85h-0.85zM132.1 87.9h0.85v0.85h-0.85zM131.8 79.5h0.85v0.85h-0.85zM132.7 82.1h0.85v0.85h-0.85zM131.3 81.5h0.85v0.85h-0.85zM131.6 74.8h0.85v0.85h-0.85zM132.0 93.7h0.85v0.85h-0.85zM131.8 82.2h0.85v0.85h-0.85zM132.8 86.4h0.85v0.85h-0.85zM132.1 92.2h0.85v0.85h-0.85zM131.6 85.7h0.85v0.85h-0.85zM132.4 86.9h0.85v0.85h-0.85zM131.6 81.7h0.85v0.85h-0.85zM133.1 85.5h0.85v0.85h-0.85zM132.1 90.9h0.85v0.85h-0.85zM131.3 85.7h0.85v0.85h-0.85zM131.3 92.4h0.85v0.85h-0.85zM131.7 86.5h0.85v0.85h-0.85zM131.7 86.5h0.85v0.85h-0.85zM132.4 86.0h0.85v0.85h-0.85zM132.0 87.1h0.85v0.85h-0.85zM132.1 83.6h0.85v0.85h-0.85zM132.5 89.9h0.85v0.85h-0.85zM131.5 81.3h0.85v0.85h-0.85zM131.8 87.3h0.85v0.85h-0.85zM131.5 93.1h0.85v0.85h-0.85zM132.2 86.7h0.85v0.85h-0.85zM132.6 82.5h0.85v0.85h-0.85zM132.4 87.8h0.85v0.85h-0.85zM132.8 81.1h0.85v0.85h-0.85zM132.9 88.7h0.85v0.85h-0.85zM132.3 90.9h0.85v0.85h-0.85zM132.1 85.1h0.85v0.85h-0.85zM132.6 84.4h0.85v0.85h-0.85zM132.7 92.3h0.85v0.85h-0.85zM132.3 86.8h0.85v0.85h-0.85zM131.9 81.8h0.85v0.85h-0.85zM132.9 81.2h0.85v0.85h-0.85zM132.2 87.3h0.85v0.85h-0.85zM131.8 82.9h0.85v0.85h-0.85zM131.8 95.7h0.85v0.85h-0.85zM132.4 92.4h0.85v0.85h-0.85zM133.2 90.6h0.85v0.85h-0.85zM132.9 84.0h0.85v0.85h-0.85zM131.9 92.7h0.85v0.85h-0.85zM132.9 81.3h0.85v0.85h-0.85zM132.8 87.4h0.85v0.85h-0.85zM132.6 90.5h0.85v0.85h-0.85zM133.2 83.2h0.85v0.85h-0.85zM132.2 91.8h0.85v0.85h-0.85zM132.1 88.5h0.85v0.85h-0.85zM132.2 78.2h0.85v0.85h-0.85zM131.9 90.1h0.85v0.85h-0.85zM131.9 79.0h0.85v0.85h-0.85zM132.0 86.5h0.85v0.85h-0.85zM132.5 87.6h0.85v0.85h-0.85zM132.5 81.2h0.85v0.85h-0.85zM131.9 82.5h0.85v0.85h-0.85zM132.0 88.1h0.85v0.85h-0.85zM132.9 85.0h0.85v0.85h-0.85zM132.7 91.2h0.85v0.85h-0.85zM131.6 82.3h0.85v0.85h-0.85zM132.3 79.8h0.85v0.85h-0.85zM133.1 77.5h0.85v0.85h-0.85zM131.6 89.7h0.85v0.85h-0.85zM131.8 89.4h0.85v0.85h-0.85zM131.7 90.9h0.85v0.85h-0.85zM131.9 89.4h0.85v0.85h-0.85zM132.7 79.2h0.85v0.85h-0.85zM131.8 78.1h0.85v0.85h-0.85zM131.7 90.3h0.85v0.85h-0.85zM132.2 90.0h0.85v0.85h-0.85zM132.9 90.9h0.85v0.85h-0.85zM132.6 84.1h0.85v0.85h-0.85zM132.0 87.6h0.85v0.85h-0.85zM132.6 91.1h0.85v0.85h-0.85zM132.4 84.8h0.85v0.85h-0.85zM132.2 93.8h0.85v0.85h-0.85zM132.4 95.3h0.85v0.85h-0.85zM131.9 90.2h0.85v0.85h-0.85zM132.3 89.6h0.85v0.85h-0.85zM131.8 87.7h0.85v0.85h-0.85zM132.2 84.9h0.85v0.85h-0.85zM131.6 79.7h0.85v0.85h-0.85zM132.0 88.7h0.85v0.85h-0.85zM132.3 87.3h0.85v0.85h-0.85zM132.4 80.0h0.85v0.85h-0.85zM132.7 86.5h0.85v0.85h-0.85zM131.8 83.7h0.85v0.85h-0.85zM132.7 87.0h0.85v0.85h-0.85zM131.4 95.8h0.85v0.85h-0.85zM131.5 94.0h0.85v0.85h-0.85zM132.6 81.6h0.85v0.85h-0.85zM132.8 91.9h0.85v0.85h-0.85zM132.7 89.2h0.85v0.85h-0.85zM132.4 87.2h0.85v0.85h-0.85zM132.0 87.4h0.85v0.85h-0.85zM132.9 85.7h0.85v0.85h-0.85zM133.2 79.1h0.85v0.85h-0.85zM132.2 79.4h0.85v0.85h-0.85zM131.3 87.3h0.85v0.85h-0.85zM132.1 83.6h0.85v0.85h-0.85zM131.7 85.1h0.85v0.85h-0.85zM131.4 85.3h0.85v0.85h-0.85zM132.0 80.5h0.85v0.85h-0.85zM132.4 77.7h0.85v0.85h-0.85zM132.4 87.4h0.85v0.85h-0.85zM132.5 86.8h0.85v0.85h-0.85zM132.6 85.0h0.85v0.85h-0.85zM131.7 87.9h0.85v0.85h-0.85zM131.8 84.5h0.85v0.85h-0.85zM132.3 81.9h0.85v0.85h-0.85zM132.7 79.2h0.85v0.85h-0.85zM132.8 86.0h0.85v0.85h-0.85zM133.1 91.3h0.85v0.85h-0.85zM132.6 87.5h0.85v0.85h-0.85zM132.3 79.9h0.85v0.85h-0.85zM131.9 81.9h0.85v0.85h-0.85zM131.9 85.6h0.85v0.85h-0.85zM131.8 86.8h0.85v0.85h-0.85zM132.1 84.0h0.85v0.85h-0.85zM132.4 88.3h0.85v0.85h-0.85zM131.6 84.8h0.85v0.85h-0.85zM133.7 86.3h0.85v0.85h-0.85zM132.4 82.1h0.85v0.85h-0.85zM132.7 93.2h0.85v0.85h-0.85zM132.5 85.6h0.85v0.85h-0.85zM132.2 77.5h0.85v0.85h-0.85zM132.5 84.8h0.85v0.85h-0.85zM132.4 87.9h0.85v0.85h-0.85zM132.3 95.8h0.85v0.85h-0.85zM132.7 83.2h0.85v0.85h-0.85zM132.5 89.1h0.85v0.85h-0.85zM132.2 92.6h0.85v0.85h-0.85zM132.0 78.2h0.85v0.85h-0.85zM131.7 88.0h0.85v0.85h-0.85zM131.7 86.9h0.85v0.85h-0.85zM131.5 87.9h0.85v0.85h-0.85zM132.1 82.0h0.85v0.85h-0.85zM131.9 84.9h0.85v0.85h-0.85zM132.7 87.3h0.85v0.85h-0.85zM132.1 86.9h0.85v0.85h-0.85zM132.7 88.3h0.85v0.85h-0.85zM133.1 82.9h0.85v0.85h-0.85zM132.6 86.8h0.85v0.85h-0.85zM131.9 88.9h0.85v0.85h-0.85zM132.6 90.7h0.85v0.85h-0.85zM132.5 82.2h0.85v0.85h-0.85zM132.3 87.9h0.85v0.85h-0.85zM133.0 86.7h0.85v0.85h-0.85zM132.3 93.3h0.85v0.85h-0.85zM132.3 84.1h0.85v0.85h-0.85zM132.4 89.7h0.85v0.85h-0.85zM132.3 78.5h0.85v0.85h-0.85zM132.0 90.8h0.85v0.85h-0.85zM131.9 90.1h0.85v0.85h-0.85zM132.3 82.6h0.85v0.85h-0.85zM132.6 76.4h0.85v0.85h-0.85zM131.2 79.1h0.85v0.85h-0.85zM132.5 84.9h0.85v0.85h-0.85zM132.5 85.8h0.85v0.85h-0.85zM132.3 83.8h0.85v0.85h-0.85z" fill="#000" opacity="0.95"/>
</g>
<line x1="5.20" y1="93.00" x2="5.20" y2="34.50" stroke="#000" stroke-width="0.8" />
<path d="M5.2 31.3 L3.5 36.2 L6.9 36.2 Z" fill="#000"/>
<text x="6.9" y="108.6" font-size="8" font-weight="bold" text-anchor="middle" fill="#000" stroke="#000" stroke-width="0.3" transform="rotate(-90 6.9 108.6)" textLength="17.6" lengthAdjust="spacingAndGlyphs">Ki67</text>
<text x="16.9" y="131.8" font-size="7.8" font-weight="bold" text-anchor="start" fill="#000" stroke="#000" stroke-width="0.3">PI</text>
<line x1="32.50" y1="129.60" x2="180.50" y2="129.60" stroke="#000" stroke-width="0.8" />
<path d="M184.4 129.6 L179.2 127.8 L179.2 131.4 Z" fill="#000"/>
<line x1="229.30" y1="10.00" x2="329.20" y2="10.00" stroke="#2a2a2a" stroke-width="0.95" />
<line x1="329.20" y1="10.00" x2="329.20" y2="122.20" stroke="#2a2a2a" stroke-width="0.95" />
<line x1="229.30" y1="10.00" x2="229.30" y2="124.40" stroke="#000" stroke-width="1.0" />
<line x1="227.10" y1="122.20" x2="329.20" y2="122.20" stroke="#000" stroke-width="1.0" />
<line x1="227.10" y1="122.20" x2="229.30" y2="122.20" stroke="#000" stroke-width="0.9" />
<text x="222.6" y="124.3" font-size="6" font-weight="bold" text-anchor="end" fill="#000" stroke="#000" stroke-width="0.3">0</text>
<line x1="227.10" y1="108.17" x2="229.30" y2="108.17" stroke="#000" stroke-width="0.9" />
<text x="222.6" y="110.27499999999999" font-size="6" font-weight="bold" text-anchor="end" fill="#000" stroke="#000" stroke-width="0.3">2</text>
<line x1="227.10" y1="94.15" x2="229.30" y2="94.15" stroke="#000" stroke-width="0.9" />
<text x="222.6" y="96.25" font-size="6" font-weight="bold" text-anchor="end" fill="#000" stroke="#000" stroke-width="0.3">4</text>
<line x1="227.10" y1="80.12" x2="229.30" y2="80.12" stroke="#000" stroke-width="0.9" />
<text x="222.6" y="82.225" font-size="6" font-weight="bold" text-anchor="end" fill="#000" stroke="#000" stroke-width="0.3">6</text>
<line x1="227.10" y1="66.10" x2="229.30" y2="66.10" stroke="#000" stroke-width="0.9" />
<text x="222.6" y="68.19999999999999" font-size="6" font-weight="bold" text-anchor="end" fill="#000" stroke="#000" stroke-width="0.3">8</text>
<line x1="227.10" y1="52.08" x2="229.30" y2="52.08" stroke="#000" stroke-width="0.9" />
<text x="222.6" y="54.175000000000004" font-size="6" font-weight="bold" text-anchor="end" fill="#000" stroke="#000" stroke-width="0.3">10</text>
<line x1="227.10" y1="38.05" x2="229.30" y2="38.05" stroke="#000" stroke-width="0.9" />
<text x="222.6" y="40.15" font-size="6" font-weight="bold" text-anchor="end" fill="#000" stroke="#000" stroke-width="0.3">12</text>
<line x1="227.10" y1="24.03" x2="229.30" y2="24.03" stroke="#000" stroke-width="0.9" />
<text x="222.6" y="26.125000000000007" font-size="6" font-weight="bold" text-anchor="end" fill="#000" stroke="#000" stroke-width="0.3">14</text>
<line x1="227.10" y1="10.00" x2="229.30" y2="10.00" stroke="#000" stroke-width="0.9" />
<text x="222.6" y="12.1" font-size="6" font-weight="bold" text-anchor="end" fill="#000" stroke="#000" stroke-width="0.3">16</text>
<rect x="243.90" y="92.75" width="20.00" height="29.45" fill="#000" stroke="none" stroke-width="0" />
<line x1="253.90" y1="92.75" x2="253.90" y2="89.24" stroke="#000" stroke-width="0.9" />
<line x1="252.10" y1="89.24" x2="255.70" y2="89.24" stroke="#000" stroke-width="0.9" />
<rect x="293.80" y="29.64" width="20.60" height="92.56" fill="#000" stroke="none" stroke-width="0" />
<line x1="304.10" y1="29.64" x2="304.10" y2="24.73" stroke="#000" stroke-width="0.9" />
<line x1="302.30" y1="24.73" x2="305.90" y2="24.73" stroke="#000" stroke-width="0.9" />
<line x1="279.25" y1="122.20" x2="279.25" y2="124.40" stroke="#000" stroke-width="0.9" />
<line x1="329.20" y1="122.20" x2="329.20" y2="124.40" stroke="#000" stroke-width="0.9" />
<text x="253.8" y="134.6" font-size="8.8" font-weight="bold" text-anchor="middle" fill="#000" stroke="#000" stroke-width="0.3" textLength="15.3" lengthAdjust="spacingAndGlyphs">Con</text>
<text x="303.8" y="134.6" font-size="8.8" font-weight="bold" text-anchor="middle" fill="#000" stroke="#000" stroke-width="0.3" textLength="11.5" lengthAdjust="spacingAndGlyphs">AD</text>
<text x="278.7" y="19.9" font-size="6.2" font-weight="bold" text-anchor="middle" stroke="#000" stroke-width="0.3" textLength="23.4" lengthAdjust="spacingAndGlyphs"><tspan font-style="italic">p</tspan>&lt;0.005</text>
<text x="208.2" y="64.9" font-size="7.3" font-weight="bold" text-anchor="middle" stroke="#000" stroke-width="0.3" transform="rotate(-90 208.2 64.9)" textLength="93.5" lengthAdjust="spacingAndGlyphs">Ki-67 negative cells (%)</text>
<line x1="383.70" y1="10.30" x2="495.00" y2="10.30" stroke="#2a2a2a" stroke-width="0.95" />
<line x1="495.00" y1="10.30" x2="495.00" y2="121.30" stroke="#2a2a2a" stroke-width="0.95" />
<line x1="383.70" y1="10.30" x2="383.70" y2="123.50" stroke="#000" stroke-width="1.0" />
<line x1="381.50" y1="121.30" x2="495.00" y2="121.30" stroke="#000" stroke-width="1.0" />
<line x1="381.50" y1="121.30" x2="383.70" y2="121.30" stroke="#000" stroke-width="0.9" />
<text x="378.0" y="123.39999999999999" font-size="6" font-weight="bold" text-anchor="end" fill="#000" stroke="#000" stroke-width="0.3">0</text>
<line x1="381.50" y1="99.10" x2="383.70" y2="99.10" stroke="#000" stroke-width="0.9" />
<text x="378.0" y="101.19999999999999" font-size="6" font-weight="bold" text-anchor="end" fill="#000" stroke="#000" stroke-width="0.3">0.5</text>
<line x1="381.50" y1="76.90" x2="383.70" y2="76.90" stroke="#000" stroke-width="0.9" />
<text x="378.0" y="79.0" font-size="6" font-weight="bold" text-anchor="end" fill="#000" stroke="#000" stroke-width="0.3">1</text>
<line x1="381.50" y1="54.70" x2="383.70" y2="54.70" stroke="#000" stroke-width="0.9" />
<text x="378.0" y="56.800000000000004" font-size="6" font-weight="bold" text-anchor="end" fill="#000" stroke="#000" stroke-width="0.3">1.5</text>
<line x1="381.50" y1="32.50" x2="383.70" y2="32.50" stroke="#000" stroke-width="0.9" />
<text x="378.0" y="34.6" font-size="6" font-weight="bold" text-anchor="end" fill="#000" stroke="#000" stroke-width="0.3">2</text>
<line x1="381.50" y1="10.30" x2="383.70" y2="10.30" stroke="#000" stroke-width="0.9" />
<text x="378.0" y="12.399999999999997" font-size="6" font-weight="bold" text-anchor="end" fill="#000" stroke="#000" stroke-width="0.3">2.5</text>
<rect x="391.50" y="76.90" width="10.60" height="44.40" fill="#fff" stroke="#000" stroke-width="0.8" />
<rect x="402.10" y="43.60" width="10.60" height="77.70" fill="#000" stroke="none" stroke-width="0" />
<line x1="396.80" y1="78.23" x2="396.80" y2="75.57" stroke="#000" stroke-width="0.9" />
<line x1="395.20" y1="75.57" x2="398.40" y2="75.57" stroke="#000" stroke-width="0.9" />
<line x1="395.20" y1="78.23" x2="398.40" y2="78.23" stroke="#000" stroke-width="0.9" />
<line x1="407.40" y1="43.60" x2="407.40" y2="39.16" stroke="#000" stroke-width="0.9" />
<line x1="405.80" y1="39.16" x2="409.00" y2="39.16" stroke="#000" stroke-width="0.9" />
<rect x="428.60" y="76.90" width="10.60" height="44.40" fill="#fff" stroke="#000" stroke-width="0.8" />
<rect x="439.20" y="61.36" width="10.60" height="59.94" fill="#000" stroke="none" stroke-width="0" />
<line x1="433.90" y1="80.01" x2="433.90" y2="73.79" stroke="#000" stroke-width="0.9" />
<line x1="432.30" y1="73.79" x2="435.50" y2="73.79" stroke="#000" stroke-width="0.9" />
<line x1="432.30" y1="80.01" x2="435.50" y2="80.01" stroke="#000" stroke-width="0.9" />
<line x1="444.50" y1="61.36" x2="444.50" y2="59.14" stroke="#000" stroke-width="0.9" />
<line x1="442.90" y1="59.14" x2="446.10" y2="59.14" stroke="#000" stroke-width="0.9" />
<rect x="465.60" y="76.90" width="10.60" height="44.40" fill="#fff" stroke="#000" stroke-width="0.8" />
<rect x="476.20" y="47.15" width="10.60" height="74.15" fill="#000" stroke="none" stroke-width="0" />
<line x1="470.90" y1="78.68" x2="470.90" y2="75.12" stroke="#000" stroke-width="0.9" />
<line x1="469.30" y1="75.12" x2="472.50" y2="75.12" stroke="#000" stroke-width="0.9" />
<line x1="469.30" y1="78.68" x2="472.50" y2="78.68" stroke="#000" stroke-width="0.9" />
<line x1="481.50" y1="47.15" x2="481.50" y2="36.94" stroke="#000" stroke-width="0.9" />
<line x1="479.90" y1="36.94" x2="483.10" y2="36.94" stroke="#000" stroke-width="0.9" />
<line x1="420.80" y1="121.30" x2="420.80" y2="123.50" stroke="#000" stroke-width="0.9" />
<line x1="457.90" y1="121.30" x2="457.90" y2="123.50" stroke="#000" stroke-width="0.9" />
<line x1="495.00" y1="121.30" x2="495.00" y2="123.50" stroke="#000" stroke-width="0.9" />
<text x="402.2" y="134.3" font-size="8.8" font-weight="bold" text-anchor="middle" fill="#000" stroke="#000" stroke-width="0.3" textLength="13.3" lengthAdjust="spacingAndGlyphs">p21</text>
<text x="439.2" y="134.3" font-size="8.8" font-weight="bold" text-anchor="middle" fill="#000" stroke="#000" stroke-width="0.3" textLength="13.3" lengthAdjust="spacingAndGlyphs">p53</text>
<text x="476.4" y="134.3" font-size="8.8" font-weight="bold" text-anchor="middle" fill="#000" stroke="#000" stroke-width="0.3" textLength="13.3" lengthAdjust="spacingAndGlyphs">p57</text>
<text x="358.9" y="64.2" font-size="7.3" font-weight="bold" text-anchor="middle" stroke="#000" stroke-width="0.3" transform="rotate(-90 358.9 64.2)" textLength="110.5" lengthAdjust="spacingAndGlyphs">Fold change of mRNA levels</text>
<text x="402.2" y="29.6" font-size="6.2" font-weight="bold" text-anchor="middle" stroke="#000" stroke-width="0.3" textLength="19.5" lengthAdjust="spacingAndGlyphs"><tspan font-style="italic">p</tspan>&lt;0.01</text>
<text x="439.2" y="49.8" font-size="6.2" font-weight="bold" text-anchor="middle" stroke="#000" stroke-width="0.3" textLength="19.5" lengthAdjust="spacingAndGlyphs"><tspan font-style="italic">p</tspan>&lt;0.05</text>
<text x="476.0" y="25.8" font-size="6.2" font-weight="bold" text-anchor="middle" stroke="#000" stroke-width="0.3" textLength="19.5" lengthAdjust="spacingAndGlyphs"><tspan font-style="italic">p</tspan>&lt;0.01</text>
<rect x="500.00" y="15.30" width="3.70" height="3.70" fill="#fff" stroke="#000" stroke-width="0.8" />
<rect x="500.00" y="24.90" width="3.70" height="3.70" fill="#000" stroke="#000" stroke-width="0.8" />
<text x="508.8" y="19.3" font-size="6.3" font-weight="bold" text-anchor="start" fill="#000" stroke="#000" stroke-width="0.3">Con</text>
<text x="508.8" y="28.9" font-size="6.3" font-weight="bold" text-anchor="start" fill="#000" stroke="#000" stroke-width="0.3">AD</text>
<line x1="28.80" y1="160.30" x2="201.60" y2="160.30" stroke="#2a2a2a" stroke-width="0.95" />
<line x1="201.60" y1="160.30" x2="201.60" y2="271.30" stroke="#2a2a2a" stroke-width="0.95" />
<line x1="28.80" y1="160.30" x2="28.80" y2="273.50" stroke="#000" stroke-width="1.0" />
<line x1="26.60" y1="271.30" x2="201.60" y2="271.30" stroke="#000" stroke-width="1.0" />
<line x1="26.60" y1="271.30" x2="28.80" y2="271.30" stroke="#000" stroke-width="0.9" />
<text x="23.6" y="273.40000000000003" font-size="5.8" font-weight="bold" text-anchor="end" fill="#000" stroke="#000" stroke-width="0.3">0</text>
<line x1="26.60" y1="257.43" x2="28.80" y2="257.43" stroke="#000" stroke-width="0.9" />
<text x="23.6" y="259.52500000000003" font-size="5.8" font-weight="bold" text-anchor="end" fill="#000" stroke="#000" stroke-width="0.3">5</text>
<line x1="26.60" y1="243.55" x2="28.80" y2="243.55" stroke="#000" stroke-width="0.9" />
<text x="23.6" y="245.65" font-size="5.8" font-weight="bold" text-anchor="end" fill="#000" stroke="#000" stroke-width="0.3">10</text>
<line x1="26.60" y1="229.68" x2="28.80" y2="229.68" stroke="#000" stroke-width="0.9" />
<text x="23.6" y="231.775" font-size="5.8" font-weight="bold" text-anchor="end" fill="#000" stroke="#000" stroke-width="0.3">15</text>
<line x1="26.60" y1="215.80" x2="28.80" y2="215.80" stroke="#000" stroke-width="0.9" />
<text x="23.6" y="217.9" font-size="5.8" font-weight="bold" text-anchor="end" fill="#000" stroke="#000" stroke-width="0.3">20</text>
<line x1="26.60" y1="201.93" x2="28.80" y2="201.93" stroke="#000" stroke-width="0.9" />
<text x="23.6" y="204.025" font-size="5.8" font-weight="bold" text-anchor="end" fill="#000" stroke="#000" stroke-width="0.3">25</text>
<line x1="26.60" y1="188.05" x2="28.80" y2="188.05" stroke="#000" stroke-width="0.9" />
<text x="23.6" y="190.15" font-size="5.8" font-weight="bold" text-anchor="end" fill="#000" stroke="#000" stroke-width="0.3">30</text>
<line x1="26.60" y1="174.18" x2="28.80" y2="174.18" stroke="#000" stroke-width="0.9" />
<text x="23.6" y="176.275" font-size="5.8" font-weight="bold" text-anchor="end" fill="#000" stroke="#000" stroke-width="0.3">35</text>
<line x1="26.60" y1="160.30" x2="28.80" y2="160.30" stroke="#000" stroke-width="0.9" />
<text x="23.6" y="162.4" font-size="5.8" font-weight="bold" text-anchor="end" fill="#000" stroke="#000" stroke-width="0.3">40</text>
<line x1="28.80" y1="271.30" x2="28.80" y2="273.50" stroke="#000" stroke-width="0.8" />
<line x1="43.20" y1="271.30" x2="43.20" y2="273.50" stroke="#000" stroke-width="0.8" />
<line x1="57.60" y1="271.30" x2="57.60" y2="273.50" stroke="#000" stroke-width="0.8" />
<line x1="72.00" y1="271.30" x2="72.00" y2="273.50" stroke="#000" stroke-width="0.8" />
<line x1="86.40" y1="271.30" x2="86.40" y2="273.50" stroke="#000" stroke-width="0.8" />
<line x1="100.80" y1="271.30" x2="100.80" y2="273.50" stroke="#000" stroke-width="0.8" />
<line x1="115.20" y1="271.30" x2="115.20" y2="273.50" stroke="#000" stroke-width="0.8" />
<line x1="129.60" y1="271.30" x2="129.60" y2="273.50" stroke="#000" stroke-width="0.8" />
<line x1="144.00" y1="271.30" x2="144.00" y2="273.50" stroke="#000" stroke-width="0.8" />
<line x1="158.40" y1="271.30" x2="158.40" y2="273.50" stroke="#000" stroke-width="0.8" />
<line x1="172.80" y1="271.30" x2="172.80" y2="273.50" stroke="#000" stroke-width="0.8" />
<line x1="187.20" y1="271.30" x2="187.20" y2="273.50" stroke="#000" stroke-width="0.8" />
<line x1="201.60" y1="271.30" x2="201.60" y2="273.50" stroke="#000" stroke-width="0.8" />
<text x="35.6" y="280.1" font-size="5.6" font-weight="bold" text-anchor="middle" fill="#000" stroke="#000" stroke-width="0.3">2</text>
<text x="50.0" y="280.1" font-size="5.6" font-weight="bold" text-anchor="middle" fill="#000" stroke="#000" stroke-width="0.3">12</text>
<text x="64.4" y="280.1" font-size="5.6" font-weight="bold" text-anchor="middle" fill="#000" stroke="#000" stroke-width="0.3">22</text>
<text x="78.80000000000001" y="280.1" font-size="5.6" font-weight="bold" text-anchor="middle" fill="#000" stroke="#000" stroke-width="0.3">32</text>
<text x="93.2" y="280.1" font-size="5.6" font-weight="bold" text-anchor="middle" fill="#000" stroke="#000" stroke-width="0.3">41</text>
<text x="107.6" y="280.1" font-size="5.6" font-weight="bold" text-anchor="middle" fill="#000" stroke="#000" stroke-width="0.3">51</text>
<text x="122.0" y="280.1" font-size="5.6" font-weight="bold" text-anchor="middle" fill="#000" stroke="#000" stroke-width="0.3">61</text>
<text x="136.4" y="280.1" font-size="5.6" font-weight="bold" text-anchor="middle" fill="#000" stroke="#000" stroke-width="0.3">70</text>
<text x="150.8" y="280.1" font-size="5.6" font-weight="bold" text-anchor="middle" fill="#000" stroke="#000" stroke-width="0.3">80</text>
<text x="165.2" y="280.1" font-size="5.6" font-weight="bold" text-anchor="middle" fill="#000" stroke="#000" stroke-width="0.3">90</text>
<text x="179.6" y="280.1" font-size="5.6" font-weight="bold" text-anchor="middle" fill="#000" stroke="#000" stroke-width="0.3">100</text>
<text x="194.0" y="280.1" font-size="5.6" font-weight="bold" text-anchor="middle" fill="#000" stroke="#000" stroke-width="0.3">109</text>
<polyline points="35.60,188.05 50.00,190.83 64.40,191.66 78.80,238.00 93.20,240.22 107.60,240.78 122.00,176.40 136.40,178.34 150.80,181.94 165.20,257.43 179.60,256.59 194.00,256.59" fill="none" stroke="#000" stroke-width="0.9"/>
<line x1="35.60" y1="180.84" x2="35.60" y2="195.27" stroke="#000" stroke-width="0.8" />
<line x1="34.00" y1="180.84" x2="37.20" y2="180.84" stroke="#000" stroke-width="0.8" />
<line x1="34.00" y1="195.27" x2="37.20" y2="195.27" stroke="#000" stroke-width="0.8" />
<path d="M35.60 185.75 L33.40 189.55 L37.80 189.55 Z" fill="#000"/>
<line x1="50.00" y1="185.83" x2="50.00" y2="195.82" stroke="#000" stroke-width="0.8" />
<line x1="48.40" y1="185.83" x2="51.60" y2="185.83" stroke="#000" stroke-width="0.8" />
<line x1="48.40" y1="195.82" x2="51.60" y2="195.82" stroke="#000" stroke-width="0.8" />
<path d="M50.00 188.53 L47.80 192.33 L52.20 192.33 Z" fill="#000"/>
<line x1="64.40" y1="186.11" x2="64.40" y2="197.21" stroke="#000" stroke-width="0.8" />
<line x1="62.80" y1="186.11" x2="66.00" y2="186.11" stroke="#000" stroke-width="0.8" />
<line x1="62.80" y1="197.21" x2="66.00" y2="197.21" stroke="#000" stroke-width="0.8" />
<path d="M64.40 189.36 L62.20 193.16 L66.60 193.16 Z" fill="#000"/>
<line x1="78.80" y1="231.62" x2="78.80" y2="244.38" stroke="#000" stroke-width="0.8" />
<line x1="77.20" y1="231.62" x2="80.40" y2="231.62" stroke="#000" stroke-width="0.8" />
<line x1="77.20" y1="244.38" x2="80.40" y2="244.38" stroke="#000" stroke-width="0.8" />
<path d="M78.80 235.70 L76.60 239.50 L81.00 239.50 Z" fill="#000"/>
<line x1="93.20" y1="233.28" x2="93.20" y2="247.16" stroke="#000" stroke-width="0.8" />
<line x1="91.60" y1="233.28" x2="94.80" y2="233.28" stroke="#000" stroke-width="0.8" />
<line x1="91.60" y1="247.16" x2="94.80" y2="247.16" stroke="#000" stroke-width="0.8" />
<path d="M93.20 237.92 L91.00 241.72 L95.40 241.72 Z" fill="#000"/>
<line x1="107.60" y1="233.84" x2="107.60" y2="247.71" stroke="#000" stroke-width="0.8" />
<line x1="106.00" y1="233.84" x2="109.20" y2="233.84" stroke="#000" stroke-width="0.8" />
<line x1="106.00" y1="247.71" x2="109.20" y2="247.71" stroke="#000" stroke-width="0.8" />
<path d="M107.60 238.47 L105.40 242.28 L109.80 242.28 Z" fill="#000"/>
<line x1="122.00" y1="170.85" x2="122.00" y2="181.94" stroke="#000" stroke-width="0.8" />
<line x1="120.40" y1="170.85" x2="123.60" y2="170.85" stroke="#000" stroke-width="0.8" />
<line x1="120.40" y1="181.94" x2="123.60" y2="181.94" stroke="#000" stroke-width="0.8" />
<path d="M122.00 174.09 L119.80 177.90 L124.20 177.90 Z" fill="#000"/>
<line x1="136.40" y1="173.34" x2="136.40" y2="183.33" stroke="#000" stroke-width="0.8" />
<line x1="134.80" y1="173.34" x2="138.00" y2="173.34" stroke="#000" stroke-width="0.8" />
<line x1="134.80" y1="183.33" x2="138.00" y2="183.33" stroke="#000" stroke-width="0.8" />
<path d="M136.40 176.04 L134.20 179.84 L138.60 179.84 Z" fill="#000"/>
<line x1="150.80" y1="178.34" x2="150.80" y2="185.55" stroke="#000" stroke-width="0.8" />
<line x1="149.20" y1="178.34" x2="152.40" y2="178.34" stroke="#000" stroke-width="0.8" />
<line x1="149.20" y1="185.55" x2="152.40" y2="185.55" stroke="#000" stroke-width="0.8" />
<path d="M150.80 179.64 L148.60 183.44 L153.00 183.44 Z" fill="#000"/>
<line x1="165.20" y1="254.10" x2="165.20" y2="260.75" stroke="#000" stroke-width="0.8" />
<line x1="163.60" y1="254.10" x2="166.80" y2="254.10" stroke="#000" stroke-width="0.8" />
<line x1="163.60" y1="260.75" x2="166.80" y2="260.75" stroke="#000" stroke-width="0.8" />
<path d="M165.20 255.12 L163.00 258.93 L167.40 258.93 Z" fill="#000"/>
<line x1="179.60" y1="254.37" x2="179.60" y2="258.81" stroke="#000" stroke-width="0.8" />
<line x1="178.00" y1="254.37" x2="181.20" y2="254.37" stroke="#000" stroke-width="0.8" />
<line x1="178.00" y1="258.81" x2="181.20" y2="258.81" stroke="#000" stroke-width="0.8" />
<path d="M179.60 254.29 L177.40 258.09 L181.80 258.09 Z" fill="#000"/>
<line x1="194.00" y1="254.37" x2="194.00" y2="258.81" stroke="#000" stroke-width="0.8" />
<line x1="192.40" y1="254.37" x2="195.60" y2="254.37" stroke="#000" stroke-width="0.8" />
<line x1="192.40" y1="258.81" x2="195.60" y2="258.81" stroke="#000" stroke-width="0.8" />
<path d="M194.00 254.29 L191.80 258.09 L196.20 258.09 Z" fill="#000"/>
<polyline points="35.60,204.70 50.00,207.48 64.40,207.48 78.80,243.55 93.20,246.33 107.60,247.71 122.00,194.43 136.40,194.43 150.80,197.21 165.20,258.81 179.60,258.26 194.00,259.37" fill="none" stroke="#000" stroke-width="0.9"/>
<line x1="35.60" y1="201.93" x2="35.60" y2="207.48" stroke="#000" stroke-width="0.8" />
<line x1="34.00" y1="201.93" x2="37.20" y2="201.93" stroke="#000" stroke-width="0.8" />
<line x1="34.00" y1="207.48" x2="37.20" y2="207.48" stroke="#000" stroke-width="0.8" />
<circle cx="35.60" cy="204.70" r="1.9" fill="#000"/>
<line x1="50.00" y1="204.15" x2="50.00" y2="210.81" stroke="#000" stroke-width="0.8" />
<line x1="48.40" y1="204.15" x2="51.60" y2="204.15" stroke="#000" stroke-width="0.8" />
<line x1="48.40" y1="210.81" x2="51.60" y2="210.81" stroke="#000" stroke-width="0.8" />
<circle cx="50.00" cy="207.48" r="1.9" fill="#000"/>
<line x1="64.40" y1="204.15" x2="64.40" y2="210.81" stroke="#000" stroke-width="0.8" />
<line x1="62.80" y1="204.15" x2="66.00" y2="204.15" stroke="#000" stroke-width="0.8" />
<line x1="62.80" y1="210.81" x2="66.00" y2="210.81" stroke="#000" stroke-width="0.8" />
<circle cx="64.40" cy="207.48" r="1.9" fill="#000"/>
<line x1="78.80" y1="240.78" x2="78.80" y2="246.33" stroke="#000" stroke-width="0.8" />
<line x1="77.20" y1="240.78" x2="80.40" y2="240.78" stroke="#000" stroke-width="0.8" />
<line x1="77.20" y1="246.33" x2="80.40" y2="246.33" stroke="#000" stroke-width="0.8" />
<circle cx="78.80" cy="243.55" r="1.9" fill="#000"/>
<line x1="93.20" y1="243.55" x2="93.20" y2="249.10" stroke="#000" stroke-width="0.8" />
<line x1="91.60" y1="243.55" x2="94.80" y2="243.55" stroke="#000" stroke-width="0.8" />
<line x1="91.60" y1="249.10" x2="94.80" y2="249.10" stroke="#000" stroke-width="0.8" />
<circle cx="93.20" cy="246.33" r="1.9" fill="#000"/>
<line x1="107.60" y1="245.49" x2="107.60" y2="249.93" stroke="#000" stroke-width="0.8" />
<line x1="106.00" y1="245.49" x2="109.20" y2="245.49" stroke="#000" stroke-width="0.8" />
<line x1="106.00" y1="249.93" x2="109.20" y2="249.93" stroke="#000" stroke-width="0.8" />
<circle cx="107.60" cy="247.71" r="1.9" fill="#000"/>
<line x1="122.00" y1="188.88" x2="122.00" y2="199.98" stroke="#000" stroke-width="0.8" />
<line x1="120.40" y1="188.88" x2="123.60" y2="188.88" stroke="#000" stroke-width="0.8" />
<line x1="120.40" y1="199.98" x2="123.60" y2="199.98" stroke="#000" stroke-width="0.8" />
<circle cx="122.00" cy="194.43" r="1.9" fill="#000"/>
<line x1="136.40" y1="188.88" x2="136.40" y2="199.98" stroke="#000" stroke-width="0.8" />
<line x1="134.80" y1="188.88" x2="138.00" y2="188.88" stroke="#000" stroke-width="0.8" />
<line x1="134.80" y1="199.98" x2="138.00" y2="199.98" stroke="#000" stroke-width="0.8" />
<circle cx="136.40" cy="194.43" r="1.9" fill="#000"/>
<line x1="150.80" y1="191.66" x2="150.80" y2="202.76" stroke="#000" stroke-width="0.8" />
<line x1="149.20" y1="191.66" x2="152.40" y2="191.66" stroke="#000" stroke-width="0.8" />
<line x1="149.20" y1="202.76" x2="152.40" y2="202.76" stroke="#000" stroke-width="0.8" />
<circle cx="150.80" cy="197.21" r="1.9" fill="#000"/>
<line x1="165.20" y1="256.04" x2="165.20" y2="261.59" stroke="#000" stroke-width="0.8" />
<line x1="163.60" y1="256.04" x2="166.80" y2="256.04" stroke="#000" stroke-width="0.8" />
<line x1="163.60" y1="261.59" x2="166.80" y2="261.59" stroke="#000" stroke-width="0.8" />
<circle cx="165.20" cy="258.81" r="1.9" fill="#000"/>
<line x1="179.60" y1="256.87" x2="179.60" y2="259.65" stroke="#000" stroke-width="0.8" />
<line x1="178.00" y1="256.87" x2="181.20" y2="256.87" stroke="#000" stroke-width="0.8" />
<line x1="178.00" y1="259.65" x2="181.20" y2="259.65" stroke="#000" stroke-width="0.8" />
<circle cx="179.60" cy="258.26" r="1.9" fill="#000"/>
<line x1="194.00" y1="257.43" x2="194.00" y2="261.31" stroke="#000" stroke-width="0.8" />
<line x1="192.40" y1="257.43" x2="195.60" y2="257.43" stroke="#000" stroke-width="0.8" />
<line x1="192.40" y1="261.31" x2="195.60" y2="261.31" stroke="#000" stroke-width="0.8" />
<circle cx="194.00" cy="259.37" r="1.9" fill="#000"/>
<circle cx="35.60" cy="216.2" r="1.25" fill="#000"/>
<circle cx="50.00" cy="217.6" r="1.25" fill="#000"/>
<circle cx="64.40" cy="217.6" r="1.25" fill="#000"/>
<circle cx="122.00" cy="209.4" r="1.25" fill="#000"/>
<circle cx="136.40" cy="209.4" r="1.25" fill="#000"/>
<circle cx="150.80" cy="211.2" r="1.25" fill="#000"/>
<text x="66.2" y="168.2" font-size="5.6" font-weight="bold" text-anchor="middle" fill="#000" stroke="#000" stroke-width="0.3" textLength="28.8" lengthAdjust="spacingAndGlyphs">oligomycin</text>
<line x1="64.50" y1="171.00" x2="64.50" y2="180.50" stroke="#000" stroke-width="0.8" />
<path d="M64.5 182.5 L62.7 178.3 L66.3 178.3 Z" fill="#000"/>
<text x="107.3" y="210.3" font-size="5.6" font-weight="bold" text-anchor="middle" fill="#000" stroke="#000" stroke-width="0.3" textLength="14.5" lengthAdjust="spacingAndGlyphs">FCCP</text>
<line x1="107.50" y1="212.50" x2="107.50" y2="226.50" stroke="#000" stroke-width="0.8" />
<path d="M107.5 228.5 L105.7 224.3 L109.3 224.3 Z" fill="#000"/>
<text x="151.4" y="166.4" font-size="5.6" font-weight="bold" text-anchor="middle" fill="#000" stroke="#000" stroke-width="0.3" textLength="23.3" lengthAdjust="spacingAndGlyphs">rotenone</text>
<line x1="151.00" y1="167.80" x2="151.00" y2="173.00" stroke="#000" stroke-width="0.8" />
<path d="M151 175 L149.2 170.8 L152.8 170.8 Z" fill="#000"/>
<line x1="35.60" y1="253.20" x2="48.00" y2="253.20" stroke="#000" stroke-width="0.9" />
<path d="M41.7 250.9 L39.5 254.7 L43.9 254.7 Z" fill="#000"/>
<text x="49.3" y="255.2" font-size="5.4" font-weight="bold" text-anchor="start" fill="#000" stroke="#000" stroke-width="0.3">Con</text>
<line x1="35.60" y1="260.50" x2="48.00" y2="260.50" stroke="#000" stroke-width="0.9" />
<circle cx="41.7" cy="260.5" r="1.9" fill="#000"/>
<text x="49.3" y="262.5" font-size="5.4" font-weight="bold" text-anchor="start" fill="#000" stroke="#000" stroke-width="0.3">AD</text>
<text x="107.0" y="294.5" font-size="7.4" font-weight="bold" text-anchor="middle" fill="#000" stroke="#000" stroke-width="0.3" textLength="37.3" lengthAdjust="spacingAndGlyphs">Time (min)</text>
<text x="8.8" y="214.5" font-size="7.0" font-weight="bold" text-anchor="middle" stroke="#000" stroke-width="0.3" transform="rotate(-90 8.8 214.5)" textLength="104.5" lengthAdjust="spacingAndGlyphs">OCR (pmoles/Min/1x10<tspan font-size="4.5" dy="-2.5">5</tspan><tspan dy="2.5"> cells)</tspan></text>
<line x1="275.90" y1="160.80" x2="373.80" y2="160.80" stroke="#2a2a2a" stroke-width="0.95" />
<line x1="373.80" y1="160.80" x2="373.80" y2="271.00" stroke="#2a2a2a" stroke-width="0.95" />
<line x1="275.90" y1="160.80" x2="275.90" y2="273.20" stroke="#000" stroke-width="1.0" />
<line x1="273.70" y1="271.00" x2="373.80" y2="271.00" stroke="#000" stroke-width="1.0" />
<line x1="273.70" y1="271.00" x2="275.90" y2="271.00" stroke="#000" stroke-width="0.9" />
<text x="268.6" y="273.1" font-size="6" font-weight="bold" text-anchor="end" fill="#000" stroke="#000" stroke-width="0.3">0</text>
<line x1="273.70" y1="243.45" x2="275.90" y2="243.45" stroke="#000" stroke-width="0.9" />
<text x="268.6" y="245.54999999999998" font-size="6" font-weight="bold" text-anchor="end" fill="#000" stroke="#000" stroke-width="0.3">0.5</text>
<line x1="273.70" y1="215.90" x2="275.90" y2="215.90" stroke="#000" stroke-width="0.9" />
<text x="268.6" y="218.0" font-size="6" font-weight="bold" text-anchor="end" fill="#000" stroke="#000" stroke-width="0.3">1</text>
<line x1="273.70" y1="188.35" x2="275.90" y2="188.35" stroke="#000" stroke-width="0.9" />
<text x="268.6" y="190.45000000000002" font-size="6" font-weight="bold" text-anchor="end" fill="#000" stroke="#000" stroke-width="0.3">1.5</text>
<line x1="273.70" y1="160.80" x2="275.90" y2="160.80" stroke="#000" stroke-width="0.9" />
<text x="268.6" y="162.9" font-size="6" font-weight="bold" text-anchor="end" fill="#000" stroke="#000" stroke-width="0.3">2</text>
<rect x="290.10" y="226.92" width="19.80" height="44.08" fill="#000" stroke="none" stroke-width="0" />
<line x1="300.00" y1="226.92" x2="300.00" y2="225.82" stroke="#000" stroke-width="0.9" />
<line x1="298.20" y1="225.82" x2="301.80" y2="225.82" stroke="#000" stroke-width="0.9" />
<rect x="339.70" y="167.96" width="19.80" height="103.04" fill="#000" stroke="none" stroke-width="0" />
<line x1="349.60" y1="167.96" x2="349.60" y2="165.21" stroke="#000" stroke-width="0.9" />
<line x1="347.80" y1="165.21" x2="351.40" y2="165.21" stroke="#000" stroke-width="0.9" />
<line x1="324.85" y1="271.00" x2="324.85" y2="273.20" stroke="#000" stroke-width="0.9" />
<line x1="373.80" y1="271.00" x2="373.80" y2="273.20" stroke="#000" stroke-width="0.9" />
<text x="299.9" y="283.9" font-size="8.8" font-weight="bold" text-anchor="middle" fill="#000" stroke="#000" stroke-width="0.3" textLength="15.4" lengthAdjust="spacingAndGlyphs">Con</text>
<text x="350.6" y="283.9" font-size="8.8" font-weight="bold" text-anchor="middle" fill="#000" stroke="#000" stroke-width="0.3" textLength="11.3" lengthAdjust="spacingAndGlyphs">AD</text>
<text x="324.1" y="171.2" font-size="6.2" font-weight="bold" text-anchor="middle" stroke="#000" stroke-width="0.3" textLength="19.5" lengthAdjust="spacingAndGlyphs"><tspan font-style="italic">p</tspan>&lt;0.01</text>
<text x="252.3" y="215.3" font-size="7.3" font-weight="bold" text-anchor="middle" stroke="#000" stroke-width="0.3" transform="rotate(-90 252.3 215.3)" textLength="110.3" lengthAdjust="spacingAndGlyphs">ECAR (mpH/Min/1x10<tspan font-size="4.7" dy="-2.6">5</tspan><tspan dy="2.6"> cells)</tspan></text>
<line x1="28.50" y1="322.50" x2="129.80" y2="322.50" stroke="#2a2a2a" stroke-width="0.95" />
<line x1="129.80" y1="322.50" x2="129.80" y2="438.40" stroke="#2a2a2a" stroke-width="0.95" />
<line x1="28.50" y1="322.50" x2="28.50" y2="440.60" stroke="#000" stroke-width="1.0" />
<line x1="26.30" y1="438.40" x2="129.80" y2="438.40" stroke="#000" stroke-width="1.0" />
<line x1="26.30" y1="438.40" x2="28.50" y2="438.40" stroke="#000" stroke-width="0.9" />
<text x="22.1" y="440.5" font-size="6" font-weight="bold" text-anchor="end" fill="#000" stroke="#000" stroke-width="0.3">0</text>
<line x1="26.30" y1="409.42" x2="28.50" y2="409.42" stroke="#000" stroke-width="0.9" />
<text x="22.1" y="411.525" font-size="6" font-weight="bold" text-anchor="end" fill="#000" stroke="#000" stroke-width="0.3">0.1</text>
<line x1="26.30" y1="380.45" x2="28.50" y2="380.45" stroke="#000" stroke-width="0.9" />
<text x="22.1" y="382.55" font-size="6" font-weight="bold" text-anchor="end" fill="#000" stroke="#000" stroke-width="0.3">0.2</text>
<line x1="26.30" y1="351.48" x2="28.50" y2="351.48" stroke="#000" stroke-width="0.9" />
<text x="22.1" y="353.57500000000005" font-size="6" font-weight="bold" text-anchor="end" fill="#000" stroke="#000" stroke-width="0.3">0.3</text>
<line x1="26.30" y1="322.50" x2="28.50" y2="322.50" stroke="#000" stroke-width="0.9" />
<text x="22.1" y="324.6" font-size="6" font-weight="bold" text-anchor="end" fill="#000" stroke="#000" stroke-width="0.3">0.4</text>
<rect x="42.90" y="361.62" width="20.70" height="76.78" fill="#000" stroke="none" stroke-width="0" />
<line x1="53.25" y1="361.62" x2="53.25" y2="360.17" stroke="#000" stroke-width="0.9" />
<line x1="51.45" y1="360.17" x2="55.05" y2="360.17" stroke="#000" stroke-width="0.9" />
<rect x="93.80" y="344.23" width="21.10" height="94.17" fill="#000" stroke="none" stroke-width="0" />
<line x1="104.35" y1="344.23" x2="104.35" y2="340.75" stroke="#000" stroke-width="0.9" />
<line x1="102.55" y1="340.75" x2="106.15" y2="340.75" stroke="#000" stroke-width="0.9" />
<line x1="79.15" y1="438.40" x2="79.15" y2="440.60" stroke="#000" stroke-width="0.9" />
<line x1="129.80" y1="438.40" x2="129.80" y2="440.60" stroke="#000" stroke-width="0.9" />
<text x="51.9" y="450.3" font-size="8.8" font-weight="bold" text-anchor="middle" fill="#000" stroke="#000" stroke-width="0.3" textLength="15.2" lengthAdjust="spacingAndGlyphs">Con</text>
<text x="104.3" y="450.3" font-size="8.8" font-weight="bold" text-anchor="middle" fill="#000" stroke="#000" stroke-width="0.3" textLength="11.4" lengthAdjust="spacingAndGlyphs">AD</text>
<text x="78.7" y="335.6" font-size="6.2" font-weight="bold" text-anchor="middle" stroke="#000" stroke-width="0.3" textLength="19.5" lengthAdjust="spacingAndGlyphs"><tspan font-style="italic">p</tspan>&lt;0.05</text>
<text x="5.9" y="383.3" font-size="6.5" font-weight="bold" text-anchor="middle" stroke="#000" stroke-width="0.3" transform="rotate(-90 5.9 383.3)" textLength="103.0" lengthAdjust="spacingAndGlyphs">Pyruvate (nmoles/2X10<tspan font-size="4.2" dy="-2.3">6</tspan><tspan dy="2.3"> cells)</tspan></text>
<line x1="232.50" y1="322.50" x2="334.80" y2="322.50" stroke="#2a2a2a" stroke-width="0.95" />
<line x1="334.80" y1="322.50" x2="334.80" y2="437.90" stroke="#2a2a2a" stroke-width="0.95" />
<line x1="232.50" y1="322.50" x2="232.50" y2="440.10" stroke="#000" stroke-width="1.0" />
<line x1="230.30" y1="437.90" x2="334.80" y2="437.90" stroke="#000" stroke-width="1.0" />
<line x1="230.30" y1="437.90" x2="232.50" y2="437.90" stroke="#000" stroke-width="0.9" />
<text x="225.4" y="440.0" font-size="6" font-weight="bold" text-anchor="end" fill="#000" stroke="#000" stroke-width="0.3">0</text>
<line x1="230.30" y1="409.05" x2="232.50" y2="409.05" stroke="#000" stroke-width="0.9" />
<text x="225.4" y="411.15000000000003" font-size="6" font-weight="bold" text-anchor="end" fill="#000" stroke="#000" stroke-width="0.3">200</text>
<line x1="230.30" y1="380.20" x2="232.50" y2="380.20" stroke="#000" stroke-width="0.9" />
<text x="225.4" y="382.3" font-size="6" font-weight="bold" text-anchor="end" fill="#000" stroke="#000" stroke-width="0.3">400</text>
<line x1="230.30" y1="351.35" x2="232.50" y2="351.35" stroke="#000" stroke-width="0.9" />
<text x="225.4" y="353.45000000000005" font-size="6" font-weight="bold" text-anchor="end" fill="#000" stroke="#000" stroke-width="0.3">600</text>
<line x1="230.30" y1="322.50" x2="232.50" y2="322.50" stroke="#000" stroke-width="0.9" />
<text x="225.4" y="324.6" font-size="6" font-weight="bold" text-anchor="end" fill="#000" stroke="#000" stroke-width="0.3">800</text>
<rect x="247.90" y="368.66" width="20.80" height="69.24" fill="#000" stroke="none" stroke-width="0" />
<line x1="258.30" y1="368.66" x2="258.30" y2="362.17" stroke="#000" stroke-width="0.9" />
<line x1="256.50" y1="362.17" x2="260.10" y2="362.17" stroke="#000" stroke-width="0.9" />
<rect x="298.80" y="336.93" width="20.80" height="100.97" fill="#000" stroke="none" stroke-width="0" />
<line x1="309.20" y1="336.93" x2="309.20" y2="328.27" stroke="#000" stroke-width="0.9" />
<line x1="307.40" y1="328.27" x2="311.00" y2="328.27" stroke="#000" stroke-width="0.9" />
<line x1="283.65" y1="437.90" x2="283.65" y2="440.10" stroke="#000" stroke-width="0.9" />
<line x1="334.80" y1="437.90" x2="334.80" y2="440.10" stroke="#000" stroke-width="0.9" />
<text x="257.5" y="449.9" font-size="8.8" font-weight="bold" text-anchor="middle" fill="#000" stroke="#000" stroke-width="0.3" textLength="15.4" lengthAdjust="spacingAndGlyphs">Con</text>
<text x="309.8" y="449.9" font-size="8.8" font-weight="bold" text-anchor="middle" fill="#000" stroke="#000" stroke-width="0.3" textLength="11.5" lengthAdjust="spacingAndGlyphs">AD</text>
<text x="283" y="333.2" font-size="6.2" font-weight="bold" text-anchor="middle" stroke="#000" stroke-width="0.3" textLength="19.5" lengthAdjust="spacingAndGlyphs"><tspan font-style="italic">p</tspan>&lt;0.01</text>
<text x="209.6" y="382.4" font-size="7.5" font-weight="bold" text-anchor="middle" stroke="#000" stroke-width="0.3" transform="rotate(-90 209.6 382.4)" textLength="97.2" lengthAdjust="spacingAndGlyphs">LDH activity (µU/10<tspan font-size="4.8" dy="-2.6">5</tspan><tspan dy="2.6"> cells)</tspan></text>
<text x="423.0" y="316.2" font-size="6.9" font-weight="bold" text-anchor="middle" fill="#000" stroke="#000" stroke-width="0.3" textLength="12.9" lengthAdjust="spacingAndGlyphs">Con</text>
<text x="448.7" y="316.2" font-size="6.9" font-weight="bold" text-anchor="middle" fill="#000" stroke="#000" stroke-width="0.3" textLength="9.8" lengthAdjust="spacingAndGlyphs">AD</text>
<rect x="408.80" y="321.20" width="52.40" height="26.80" fill="#c6c6c6" stroke="#111" stroke-width="1.15" />
<clipPath id="c321"><rect x="409.3" y="321.7" width="51.4" height="25.80000000000001"/></clipPath>
<g clip-path="url(#c321)">
<rect x="432.30" y="321.20" width="4.80" height="26.80" fill="#fff" stroke="none" stroke-width="0" opacity="0.22" filter="url(#b2)"/>
<rect x="409.00" y="321.20" width="52.00" height="5.00" fill="#fff" stroke="none" stroke-width="0" opacity="0.25" filter="url(#b2)"/>
<rect x="414" y="331.00" width="18" height="4.0" rx="2.0" fill="#555" opacity="0.4" filter="url(#b1)"/>
<rect x="439" y="328.00" width="18" height="5.0" rx="2.5" fill="#333" opacity="0.5" filter="url(#b1)"/>
<rect x="412.8" y="334.00" width="20.19999999999999" height="3.8" rx="1.9" fill="#1a1a1a" opacity="0.9" filter="url(#b2)"/>
<rect x="436.5" y="331.40" width="21.5" height="6.4" rx="3.2" fill="#000" opacity="1" filter="url(#b1)"/>
<rect x="439.5" y="332.40" width="15.5" height="4.4" rx="2.2" fill="#000" opacity="1" filter="url(#b2)"/>
</g>
<text x="466.3" y="338.4" font-size="7.2" font-weight="bold" text-anchor="start" fill="#000" stroke="#000" stroke-width="0.3" textLength="26.0" lengthAdjust="spacingAndGlyphs">p-AMPK</text>
<text x="419.8" y="355.9" font-size="5.6" font-weight="bold" text-anchor="middle" fill="#000" stroke="#000" stroke-width="0.3">1</text>
<text x="446.8" y="355.9" font-size="5.6" font-weight="bold" text-anchor="middle" fill="#000" stroke="#000" stroke-width="0.3">3.2</text>
<rect x="408.80" y="358.00" width="52.40" height="26.60" fill="#c4c4c4" stroke="#111" stroke-width="1.15" />
<clipPath id="c358"><rect x="409.3" y="358.5" width="51.4" height="25.600000000000023"/></clipPath>
<g clip-path="url(#c358)">
<rect x="432.30" y="358.00" width="4.80" height="26.60" fill="#fff" stroke="none" stroke-width="0" opacity="0.22" filter="url(#b2)"/>
<rect x="412" y="365.50" width="20" height="4.0" rx="2.0" fill="#444" opacity="0.35" filter="url(#b1)"/>
<rect x="437" y="364.50" width="21" height="4.0" rx="2.0" fill="#444" opacity="0.35" filter="url(#b1)"/>
<rect x="411.5" y="369.30" width="21.0" height="5.4" rx="2.7" fill="#000" opacity="1" filter="url(#b1)"/>
<rect x="414.5" y="370.20" width="15.0" height="3.6" rx="1.8" fill="#000" opacity="1" filter="url(#b2)"/>
<rect x="436.8" y="368.00" width="21.19999999999999" height="5.6" rx="2.8" fill="#000" opacity="1" filter="url(#b1)"/>
<rect x="439.8" y="368.90" width="15.199999999999989" height="3.8" rx="1.9" fill="#000" opacity="1" filter="url(#b2)"/>
</g>
<text x="466.3" y="374.1" font-size="7.2" font-weight="bold" text-anchor="start" fill="#000" stroke="#000" stroke-width="0.3" textLength="20.0" lengthAdjust="spacingAndGlyphs">AMPK</text>
<rect x="408.80" y="387.00" width="52.40" height="20.70" fill="#cbcbcb" stroke="#111" stroke-width="1.15" />
<clipPath id="c387"><rect x="409.3" y="387.5" width="51.4" height="19.69999999999999"/></clipPath>
<g clip-path="url(#c387)">
<rect x="432.30" y="387.00" width="4.80" height="20.70" fill="#fff" stroke="none" stroke-width="0" opacity="0.22" filter="url(#b2)"/>
<rect x="412.5" y="394.40" width="18.5" height="2.6" rx="1.3" fill="#333" opacity="0.8" filter="url(#b3)"/>
<rect x="438.3" y="394.50" width="19.69999999999999" height="3.4" rx="1.7" fill="#111" opacity="0.95" filter="url(#b3)"/>
</g>
<text x="466.3" y="399.9" font-size="7.2" font-weight="bold" text-anchor="start" fill="#000" stroke="#000" stroke-width="0.3" textLength="20.0" lengthAdjust="spacingAndGlyphs">p-ACC</text>
<text x="419.8" y="414.4" font-size="5.6" font-weight="bold" text-anchor="middle" fill="#000" stroke="#000" stroke-width="0.3">1</text>
<text x="446.8" y="414.4" font-size="5.6" font-weight="bold" text-anchor="middle" fill="#000" stroke="#000" stroke-width="0.3">2.6</text>
<rect x="408.80" y="417.00" width="52.40" height="20.70" fill="#b2b2b2" stroke="#111" stroke-width="1.15" />
<clipPath id="c417"><rect x="409.3" y="417.5" width="51.4" height="19.69999999999999"/></clipPath>
<g clip-path="url(#c417)">
<rect x="432.30" y="417.00" width="4.80" height="20.70" fill="#fff" stroke="none" stroke-width="0" opacity="0.22" filter="url(#b2)"/>
<rect x="413.2" y="424.30" width="18.600000000000023" height="3.8" rx="1.9" fill="#0a0a0a" opacity="0.95" filter="url(#b3)"/>
<rect x="437.8" y="424.20" width="19.19999999999999" height="4.0" rx="2.0" fill="#050505" opacity="1" filter="url(#b3)"/>
</g>
<text x="466.3" y="430.4" font-size="7.2" font-weight="bold" text-anchor="start" fill="#000" stroke="#000" stroke-width="0.3" textLength="13.6" lengthAdjust="spacingAndGlyphs">ACC</text>
</g></svg></body></html>
